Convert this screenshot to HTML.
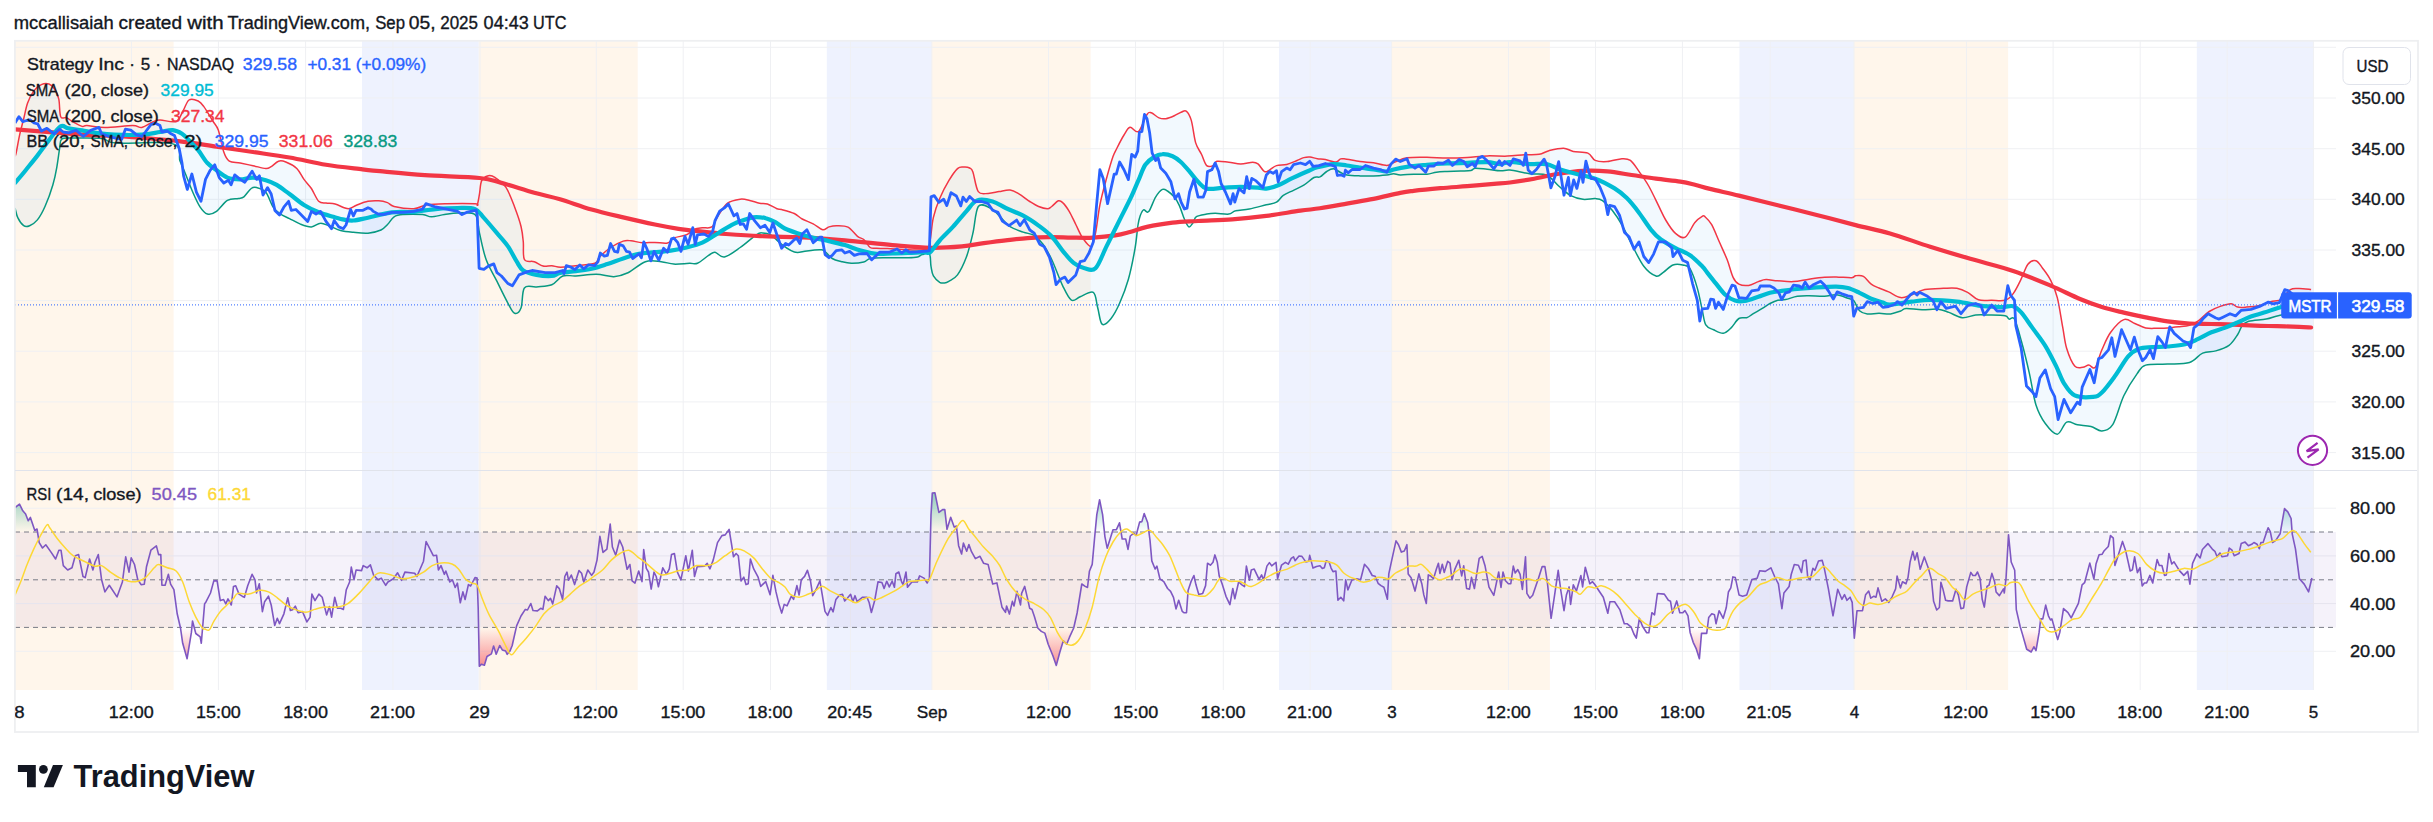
<!DOCTYPE html>
<html><head><meta charset="utf-8"><title>MSTR chart</title>
<style>
html,body{margin:0;padding:0;background:#fff;width:2433px;height:822px;overflow:hidden}
svg{display:block}
text{font-family:"Liberation Sans", Arial, sans-serif;font-size:17px;fill:#131722}
</style></head><body>
<svg width="2433" height="822" viewBox="0 0 2433 822">
<defs>
<clipPath id="mainclip"><rect x="15" y="41" width="2321" height="429"/></clipPath>
<clipPath id="rsiclip"><rect x="15" y="471" width="2321" height="219"/></clipPath>
<clipPath id="timeclip"><rect x="15" y="690" width="2402" height="41"/></clipPath>
<linearGradient id="obg" gradientUnits="userSpaceOnUse" x1="0" y1="484.3" x2="0" y2="532.1"><stop offset="0" stop-color="#089981" stop-opacity="0.55"/><stop offset="1" stop-color="#089981" stop-opacity="0"/></linearGradient>
<linearGradient id="osg" gradientUnits="userSpaceOnUse" x1="0" y1="627.6" x2="0" y2="670"><stop offset="0" stop-color="#f23645" stop-opacity="0"/><stop offset="1" stop-color="#f23645" stop-opacity="0.6"/></linearGradient>
<clipPath id="obclip"><rect x="15" y="471" width="2321" height="61.1"/></clipPath>
<clipPath id="osclip"><rect x="15" y="627.6" width="2321" height="62.4"/></clipPath>
</defs>

<rect x="15.0" y="41" width="158.6" height="649" fill="#fff6eb"/>
<rect x="362.0" y="41" width="116.8" height="649" fill="#eef2fe"/>
<rect x="478.8" y="41" width="158.9" height="649" fill="#fff6eb"/>
<rect x="826.8" y="41" width="105.0" height="649" fill="#eef2fe"/>
<rect x="931.8" y="41" width="158.8" height="649" fill="#fff6eb"/>
<rect x="1279.0" y="41" width="112.6" height="649" fill="#eef2fe"/>
<rect x="1391.6" y="41" width="158.3" height="649" fill="#fff6eb"/>
<rect x="1739.5" y="41" width="114.4" height="649" fill="#eef2fe"/>
<rect x="1853.9" y="41" width="154.2" height="649" fill="#fff6eb"/>
<rect x="2196.8" y="41" width="116.5" height="649" fill="#eef2fe"/>
<line x1="131.4" y1="41" x2="131.4" y2="690" stroke="#eff0f3" stroke-width="1"/>
<line x1="218.4" y1="41" x2="218.4" y2="690" stroke="#eff0f3" stroke-width="1"/>
<line x1="305.6" y1="41" x2="305.6" y2="690" stroke="#eff0f3" stroke-width="1"/>
<line x1="393.0" y1="41" x2="393.0" y2="690" stroke="#eff0f3" stroke-width="1"/>
<line x1="480.0" y1="41" x2="480.0" y2="690" stroke="#eff0f3" stroke-width="1"/>
<line x1="596.3" y1="41" x2="596.3" y2="690" stroke="#eff0f3" stroke-width="1"/>
<line x1="683.2" y1="41" x2="683.2" y2="690" stroke="#eff0f3" stroke-width="1"/>
<line x1="770.5" y1="41" x2="770.5" y2="690" stroke="#eff0f3" stroke-width="1"/>
<line x1="850.4" y1="41" x2="850.4" y2="690" stroke="#eff0f3" stroke-width="1"/>
<line x1="931.8" y1="41" x2="931.8" y2="690" stroke="#eff0f3" stroke-width="1"/>
<line x1="1048.5" y1="41" x2="1048.5" y2="690" stroke="#eff0f3" stroke-width="1"/>
<line x1="1135.5" y1="41" x2="1135.5" y2="690" stroke="#eff0f3" stroke-width="1"/>
<line x1="1223.3" y1="41" x2="1223.3" y2="690" stroke="#eff0f3" stroke-width="1"/>
<line x1="1310.2" y1="41" x2="1310.2" y2="690" stroke="#eff0f3" stroke-width="1"/>
<line x1="1391.6" y1="41" x2="1391.6" y2="690" stroke="#eff0f3" stroke-width="1"/>
<line x1="1508.4" y1="41" x2="1508.4" y2="690" stroke="#eff0f3" stroke-width="1"/>
<line x1="1595.5" y1="41" x2="1595.5" y2="690" stroke="#eff0f3" stroke-width="1"/>
<line x1="1682.4" y1="41" x2="1682.4" y2="690" stroke="#eff0f3" stroke-width="1"/>
<line x1="1770.2" y1="41" x2="1770.2" y2="690" stroke="#eff0f3" stroke-width="1"/>
<line x1="1854.0" y1="41" x2="1854.0" y2="690" stroke="#eff0f3" stroke-width="1"/>
<line x1="1966.4" y1="41" x2="1966.4" y2="690" stroke="#eff0f3" stroke-width="1"/>
<line x1="2053.1" y1="41" x2="2053.1" y2="690" stroke="#eff0f3" stroke-width="1"/>
<line x1="2140.2" y1="41" x2="2140.2" y2="690" stroke="#eff0f3" stroke-width="1"/>
<line x1="2227.2" y1="41" x2="2227.2" y2="690" stroke="#eff0f3" stroke-width="1"/>
<line x1="2313.4" y1="41" x2="2313.4" y2="690" stroke="#eff0f3" stroke-width="1"/>
<line x1="15" y1="47.3" x2="2336" y2="47.3" stroke="#eff0f3" stroke-width="1"/>
<line x1="15" y1="98.0" x2="2336" y2="98.0" stroke="#eff0f3" stroke-width="1"/>
<line x1="15" y1="148.7" x2="2336" y2="148.7" stroke="#eff0f3" stroke-width="1"/>
<line x1="15" y1="199.3" x2="2336" y2="199.3" stroke="#eff0f3" stroke-width="1"/>
<line x1="15" y1="250.0" x2="2336" y2="250.0" stroke="#eff0f3" stroke-width="1"/>
<line x1="15" y1="300.6" x2="2336" y2="300.6" stroke="#eff0f3" stroke-width="1"/>
<line x1="15" y1="351.2" x2="2336" y2="351.2" stroke="#eff0f3" stroke-width="1"/>
<line x1="15" y1="401.9" x2="2336" y2="401.9" stroke="#eff0f3" stroke-width="1"/>
<line x1="15" y1="452.6" x2="2336" y2="452.6" stroke="#eff0f3" stroke-width="1"/>
<line x1="15" y1="508.2" x2="2336" y2="508.2" stroke="#eff0f3" stroke-width="1"/>
<line x1="15" y1="555.9" x2="2336" y2="555.9" stroke="#eff0f3" stroke-width="1"/>
<line x1="15" y1="603.6" x2="2336" y2="603.6" stroke="#eff0f3" stroke-width="1"/>
<line x1="15" y1="651.3" x2="2336" y2="651.3" stroke="#eff0f3" stroke-width="1"/>
<rect x="15" y="532.0" width="2321" height="95.4" fill="#7e57c2" fill-opacity="0.08"/>
<line x1="15" y1="532.0" x2="2336" y2="532.0" stroke="#787b86" stroke-width="1" stroke-dasharray="5,4"/>
<line x1="15" y1="579.8" x2="2336" y2="579.8" stroke="#787b86" stroke-width="1" stroke-dasharray="5,4"/>
<line x1="15" y1="627.4" x2="2336" y2="627.4" stroke="#787b86" stroke-width="1" stroke-dasharray="5,4"/>
<g clip-path="url(#mainclip)">
<path d="M15.0,155.0 C15.2,154.8 15.2,157.2 16.0,153.7 C16.8,150.2 18.5,140.0 19.8,134.2 C21.1,128.4 22.4,123.9 23.7,118.7 C25.0,113.5 26.0,107.6 27.6,103.1 C29.2,98.5 31.2,94.5 33.5,91.4 C35.8,88.3 38.7,85.8 41.3,84.6 C43.9,83.4 46.7,83.2 49.0,84.0 C51.3,84.8 53.3,87.0 54.9,89.5 C56.5,92.0 57.8,94.7 58.8,99.2 C59.8,103.7 59.4,113.6 60.7,116.7 C62.0,119.8 64.6,116.9 66.6,117.7 C68.5,118.5 69.8,120.1 72.4,121.6 C75.0,123.0 79.7,125.7 82.1,126.4 C84.5,127.1 83.2,125.4 87.0,125.6 C90.8,125.8 97.4,127.4 105.0,127.4 C112.6,127.4 126.5,125.6 132.6,125.6 C138.7,125.6 138.5,128.0 141.8,127.4 C145.2,126.8 149.7,123.2 152.7,122.0 C155.7,120.8 156.1,120.1 160.0,120.0 C163.9,119.9 172.2,123.0 176.0,121.5 C179.8,120.0 180.8,114.6 183.0,111.0 C185.2,107.4 186.5,101.7 189.0,100.0 C191.5,98.3 195.8,99.9 198.2,101.0 C200.6,102.1 201.3,103.1 203.7,106.4 C206.1,109.7 210.4,117.0 212.8,121.0 C215.2,125.0 216.5,124.9 218.3,130.1 C220.1,135.3 222.0,146.8 223.8,152.0 C225.6,157.2 226.6,159.4 229.3,161.2 C232.0,163.0 236.2,162.2 240.2,163.0 C244.1,163.8 248.7,164.8 253.0,165.7 C257.3,166.6 262.8,168.3 265.8,168.5 C268.8,168.7 269.1,167.8 271.2,166.6 C273.3,165.4 276.1,162.0 278.5,161.2 C280.9,160.4 282.8,160.8 285.8,162.0 C288.9,163.2 293.8,165.6 296.8,168.5 C299.8,171.4 301.6,176.1 304.0,179.4 C306.4,182.7 308.9,184.8 311.4,188.5 C313.8,192.2 316.3,198.9 318.7,201.3 C321.1,203.7 323.3,202.7 326.0,203.1 C328.7,203.5 332.1,203.2 335.1,204.0 C338.1,204.8 341.8,206.9 344.2,207.7 C346.6,208.5 347.6,209.0 349.7,208.6 C351.8,208.2 353.9,206.2 357.0,205.0 C360.1,203.8 364.4,202.0 368.0,201.3 C371.6,200.6 375.6,200.6 378.8,200.8 C382.1,201.0 384.9,201.7 387.5,202.6 C390.1,203.5 389.7,205.5 394.1,206.5 C398.5,207.5 408.3,209.0 413.8,208.7 C419.3,208.4 421.5,205.6 427.0,204.8 C432.5,204.0 438.7,203.9 446.7,203.7 C454.7,203.5 470.0,203.5 475.1,203.7 C480.2,203.9 476.6,206.5 477.3,204.8 C478.0,203.2 478.8,197.8 479.5,193.8 C480.2,189.8 480.2,183.7 481.7,180.7 C483.2,177.7 486.1,176.4 488.3,175.8 C490.5,175.2 492.0,175.5 494.9,177.4 C497.8,179.3 502.5,182.3 505.8,187.2 C509.1,192.1 512.1,200.4 514.6,207.0 C517.1,213.6 519.7,220.9 521.1,226.7 C522.5,232.5 522.8,236.5 523.3,242.0 C523.8,247.5 522.6,256.2 524.4,259.5 C526.2,262.8 531.2,260.6 534.3,261.7 C537.4,262.8 540.1,265.4 543.0,266.1 C545.9,266.8 548.9,265.5 551.8,265.7 C554.7,265.9 556.6,267.2 560.6,267.2 C564.6,267.2 570.1,266.3 575.8,265.7 C581.5,265.1 590.8,264.8 594.8,263.3 C598.8,261.9 596.9,259.6 599.5,257.0 C602.1,254.4 606.6,250.2 610.6,247.5 C614.6,244.8 619.8,242.2 623.2,241.1 C626.6,240.0 627.9,240.5 631.1,240.8 C634.3,241.1 638.2,242.4 642.2,242.7 C646.2,243.0 650.7,242.3 654.9,242.4 C659.1,242.5 664.4,243.7 667.5,243.0 C670.6,242.3 670.6,239.4 673.8,238.0 C677.0,236.6 683.1,236.2 686.5,234.8 C689.9,233.4 691.8,230.5 694.4,229.3 C697.0,228.1 699.4,228.1 702.3,227.7 C705.2,227.3 709.2,228.9 711.8,226.9 C714.4,224.9 715.5,219.8 718.1,215.8 C720.7,211.9 723.9,206.0 727.6,203.2 C731.3,200.4 736.5,199.7 740.2,199.2 C743.9,198.7 746.5,199.7 749.7,200.4 C752.9,201.1 756.5,202.6 759.5,203.2 C762.5,203.8 764.5,203.1 767.4,204.0 C770.3,204.9 774.5,207.8 776.9,208.7 C779.3,209.6 778.7,208.7 781.6,209.5 C784.5,210.3 790.9,211.9 794.3,213.5 C797.7,215.1 799.1,217.3 802.2,219.0 C805.4,220.7 809.8,222.0 813.2,223.8 C816.6,225.6 820.1,229.3 822.7,229.8 C825.3,230.3 826.6,227.6 829.0,226.9 C831.4,226.2 833.8,225.6 837.0,225.7 C840.2,225.8 844.6,225.4 848.0,227.2 C851.4,229.0 854.9,234.3 857.5,236.4 C860.1,238.5 861.7,237.8 863.8,239.6 C865.9,241.4 868.1,246.1 870.2,247.5 C872.3,248.9 873.6,248.1 876.5,248.3 C879.4,248.5 882.2,248.3 887.5,248.6 C892.8,248.8 901.5,249.7 908.1,249.8 C914.7,249.9 923.3,250.7 927.0,249.0 C930.7,247.3 929.1,244.9 930.2,239.6 C931.3,234.3 931.8,224.2 933.4,217.4 C935.0,210.6 937.1,204.6 939.7,198.5 C942.3,192.4 945.8,185.7 948.8,180.7 C951.8,175.7 955.0,170.9 957.5,168.6 C960.0,166.3 962.1,167.2 964.1,167.1 C966.1,167.0 968.1,167.2 969.6,168.0 C971.1,168.8 971.5,168.0 972.9,171.9 C974.3,175.8 975.8,188.0 978.3,191.6 C980.8,195.2 984.7,193.4 988.2,193.4 C991.7,193.4 995.5,192.2 999.1,191.6 C1002.8,191.0 1006.8,189.7 1010.1,190.1 C1013.4,190.5 1015.6,191.9 1018.9,193.8 C1022.2,195.7 1026.5,199.4 1029.8,201.5 C1033.1,203.6 1035.7,205.3 1038.6,206.5 C1041.5,207.7 1045.1,208.7 1047.3,208.7 C1049.5,208.7 1049.9,207.8 1051.7,206.5 C1053.5,205.2 1056.5,201.5 1058.3,200.8 C1060.1,200.2 1060.9,200.8 1062.7,202.6 C1064.5,204.3 1067.0,207.7 1069.2,211.3 C1071.4,215.0 1073.6,220.1 1075.8,224.5 C1078.0,228.9 1079.9,233.9 1082.4,237.6 C1085.0,241.2 1088.9,247.1 1091.1,246.4 C1093.3,245.7 1094.0,240.1 1095.5,233.2 C1097.0,226.3 1098.1,213.9 1099.9,204.8 C1101.7,195.7 1104.3,186.5 1106.5,178.5 C1108.7,170.5 1111.2,161.7 1113.0,156.6 C1114.8,151.5 1115.2,151.6 1117.0,148.0 C1118.8,144.4 1121.8,138.4 1124.0,135.0 C1126.2,131.6 1127.6,127.9 1130.0,127.3 C1132.4,126.7 1135.7,133.6 1138.5,131.5 C1141.3,129.4 1144.9,117.6 1147.0,114.5 C1149.1,111.4 1149.3,112.2 1151.3,112.8 C1153.3,113.4 1156.6,116.9 1159.0,117.9 C1161.4,118.9 1163.2,119.1 1165.8,118.7 C1168.3,118.3 1171.8,116.8 1174.3,115.7 C1176.8,114.6 1179.1,113.1 1181.1,112.3 C1183.1,111.5 1184.5,109.8 1186.2,111.1 C1187.9,112.4 1189.7,115.2 1191.3,120.4 C1192.9,125.7 1193.9,136.9 1195.6,142.6 C1197.3,148.3 1199.8,150.7 1201.6,154.5 C1203.4,158.3 1204.8,163.8 1206.7,165.6 C1208.6,167.4 1211.3,166.3 1213.0,165.6 C1214.7,164.9 1214.3,161.9 1216.9,161.3 C1219.5,160.7 1224.8,161.8 1228.8,162.2 C1232.8,162.6 1236.7,163.9 1240.7,163.9 C1244.7,163.9 1249.8,162.2 1252.7,162.2 C1255.6,162.2 1256.0,162.3 1258.0,163.9 C1260.0,165.5 1262.6,170.6 1264.6,171.6 C1266.5,172.6 1267.7,170.8 1269.7,169.8 C1271.7,168.8 1273.7,166.5 1276.5,165.6 C1279.3,164.7 1283.3,165.2 1286.7,164.4 C1290.1,163.6 1294.2,161.6 1297.0,160.5 C1299.8,159.4 1301.6,158.2 1303.8,157.6 C1306.0,157.0 1307.7,156.8 1310.0,157.0 C1312.3,157.2 1314.8,158.4 1317.4,158.8 C1320.0,159.2 1322.3,158.9 1325.4,159.5 C1328.5,160.1 1333.5,162.2 1336.0,162.1 C1338.5,162.0 1338.8,159.6 1340.1,159.1 C1341.4,158.6 1340.8,158.4 1344.1,158.8 C1347.4,159.2 1355.2,160.8 1360.1,161.5 C1365.0,162.2 1369.0,162.1 1373.5,162.8 C1378.0,163.5 1383.3,165.6 1386.9,165.5 C1390.5,165.4 1391.6,163.4 1394.9,162.1 C1398.2,160.8 1401.7,158.5 1407.0,157.7 C1412.3,156.9 1420.3,157.1 1427.0,157.2 C1433.7,157.3 1440.4,158.0 1447.1,158.1 C1453.8,158.2 1460.5,157.9 1467.2,157.5 C1473.9,157.1 1480.5,156.1 1487.2,155.9 C1493.9,155.7 1501.1,156.3 1507.3,156.1 C1513.5,155.9 1519.3,155.1 1524.6,154.8 C1529.9,154.5 1535.2,155.0 1539.2,154.3 C1543.2,153.6 1544.9,151.7 1548.9,150.7 C1553.0,149.7 1559.4,148.1 1563.5,148.2 C1567.6,148.3 1569.2,150.6 1573.3,151.4 C1577.4,152.2 1584.2,151.6 1587.9,153.1 C1591.6,154.6 1592.0,159.0 1595.2,160.4 C1598.4,161.8 1602.8,161.9 1607.3,161.6 C1611.8,161.3 1618.1,158.9 1621.9,158.7 C1625.8,158.5 1627.6,158.3 1630.4,160.4 C1633.2,162.5 1636.0,167.1 1639.0,171.4 C1642.0,175.7 1645.5,180.3 1648.7,186.0 C1651.9,191.7 1655.6,199.7 1658.4,205.4 C1661.2,211.1 1662.9,215.3 1665.7,220.0 C1668.5,224.7 1672.2,230.6 1675.5,233.4 C1678.8,236.2 1682.0,238.9 1685.2,237.1 C1688.4,235.3 1692.1,225.9 1694.9,222.5 C1697.7,219.1 1700.5,217.4 1702.2,216.4 C1703.9,215.4 1703.3,215.2 1704.9,216.6 C1706.5,218.0 1709.3,220.4 1711.7,224.7 C1714.1,229.0 1716.9,236.5 1719.5,242.3 C1722.1,248.2 1724.9,254.0 1727.2,259.8 C1729.5,265.6 1731.1,273.2 1733.1,277.3 C1735.0,281.4 1736.3,282.8 1738.9,284.1 C1741.5,285.5 1745.3,285.8 1748.6,285.4 C1751.8,285.0 1755.5,282.6 1758.4,281.6 C1761.3,280.6 1762.9,279.7 1766.1,279.6 C1769.3,279.5 1773.2,280.5 1777.8,280.8 C1782.3,281.1 1788.2,281.9 1793.4,281.6 C1798.6,281.3 1803.8,279.9 1809.0,279.2 C1814.2,278.5 1820.0,277.7 1824.5,277.3 C1829.0,276.9 1831.7,276.8 1836.2,276.9 C1840.8,277.0 1848.6,277.9 1851.8,277.7 C1855.0,277.5 1853.7,275.9 1855.6,275.7 C1857.5,275.5 1860.8,274.9 1863.4,276.3 C1866.0,277.7 1868.6,282.2 1871.2,284.1 C1873.8,286.1 1876.1,286.7 1879.0,288.0 C1881.9,289.3 1885.1,290.3 1888.7,291.9 C1892.3,293.5 1896.9,297.1 1900.7,297.6 C1904.5,298.1 1907.4,296.3 1911.4,295.0 C1915.4,293.7 1919.5,290.7 1924.8,289.6 C1930.1,288.5 1938.2,288.5 1943.5,288.3 C1948.8,288.1 1952.9,287.6 1956.9,288.3 C1960.9,289.0 1964.0,290.4 1967.6,292.3 C1971.2,294.2 1974.4,298.5 1978.4,299.8 C1982.4,301.1 1987.2,300.2 1991.7,300.3 C1996.2,300.4 2001.5,301.4 2005.1,300.3 C2008.7,299.2 2010.5,297.2 2013.2,293.6 C2015.9,290.0 2018.8,283.8 2021.2,278.9 C2023.7,274.0 2025.5,267.2 2027.9,264.2 C2030.4,261.2 2033.5,260.0 2035.9,260.7 C2038.4,261.4 2040.1,264.9 2042.6,268.2 C2045.0,271.4 2048.1,275.3 2050.6,280.2 C2053.1,285.1 2055.3,289.8 2057.3,297.6 C2059.3,305.4 2061.1,318.6 2062.7,327.1 C2064.3,335.6 2064.7,342.0 2066.7,348.5 C2068.7,355.0 2072.0,362.8 2074.7,365.9 C2077.4,369.0 2080.5,367.4 2082.8,367.3 C2085.2,367.2 2086.7,365.1 2088.8,365.1 C2090.9,365.1 2093.1,369.9 2095.3,367.3 C2097.5,364.8 2099.3,355.6 2101.9,349.8 C2104.5,344.0 2107.0,337.3 2110.7,332.3 C2114.3,327.3 2119.8,321.1 2123.8,319.6 C2127.8,318.1 2131.2,322.1 2134.8,323.5 C2138.5,324.9 2142.0,327.1 2145.7,327.9 C2149.3,328.7 2153.0,328.3 2156.7,328.3 C2160.3,328.3 2163.9,328.1 2167.6,327.9 C2171.2,327.6 2174.9,327.2 2178.6,326.8 C2182.2,326.4 2186.2,326.3 2189.5,325.3 C2192.8,324.3 2195.0,323.2 2198.3,320.9 C2201.6,318.6 2205.5,313.9 2209.2,311.5 C2212.8,309.1 2216.5,307.7 2220.2,306.4 C2223.9,305.1 2228.3,303.7 2231.2,303.8 C2234.1,303.9 2235.1,306.6 2237.7,307.1 C2240.2,307.7 2242.8,307.4 2246.5,307.1 C2250.2,306.9 2255.6,306.5 2259.6,305.6 C2263.6,304.7 2266.9,302.6 2270.6,301.6 C2274.2,300.6 2278.2,301.4 2281.5,299.4 C2284.8,297.4 2287.4,291.4 2290.3,289.6 C2293.2,287.8 2295.6,288.5 2299.1,288.5 C2302.6,288.5 2309.1,289.4 2311.1,289.6 L2311.0,309.5 C2309.2,309.8 2303.5,310.4 2300.0,311.0 C2296.5,311.6 2293.8,312.2 2290.0,313.0 C2286.2,313.8 2281.2,314.9 2277.2,315.9 C2273.2,316.9 2270.9,318.2 2266.2,319.1 C2261.4,320.0 2252.7,320.2 2248.7,321.3 C2244.7,322.4 2243.9,323.5 2242.1,325.7 C2240.3,327.9 2239.9,331.2 2237.7,334.5 C2235.5,337.8 2232.7,342.7 2229.0,345.4 C2225.3,348.1 2220.2,349.6 2215.8,350.9 C2211.4,352.2 2207.1,351.2 2202.7,353.1 C2198.3,355.0 2195.3,360.7 2189.5,362.5 C2183.7,364.3 2174.9,363.7 2167.6,364.1 C2160.3,364.5 2150.8,363.5 2145.7,365.1 C2140.6,366.7 2140.7,368.8 2137.0,373.9 C2133.3,379.0 2127.8,387.4 2123.8,395.8 C2119.8,404.2 2116.6,418.5 2112.9,424.3 C2109.2,430.1 2105.6,430.5 2101.9,430.9 C2098.2,431.3 2095.1,427.5 2091.0,426.5 C2086.9,425.5 2081.5,425.5 2077.4,424.8 C2073.3,424.1 2070.0,420.5 2066.7,422.1 C2063.3,423.7 2060.9,434.0 2057.3,434.2 C2053.7,434.4 2048.9,428.4 2045.3,423.5 C2041.7,418.6 2038.6,413.2 2035.9,404.7 C2033.2,396.2 2031.7,383.3 2029.2,372.6 C2026.8,361.9 2023.7,349.4 2021.2,340.5 C2018.8,331.6 2016.5,322.7 2014.5,319.1 C2012.5,315.5 2010.7,319.7 2009.1,319.1 C2007.5,318.6 2008.4,316.5 2005.1,315.8 C2001.8,315.1 1994.0,315.1 1989.1,315.0 C1984.2,314.9 1980.2,314.6 1975.7,315.0 C1971.2,315.4 1966.8,318.1 1962.3,317.7 C1957.8,317.3 1952.9,313.8 1948.9,312.4 C1944.9,311.0 1942.7,309.6 1938.2,309.2 C1933.7,308.8 1927.4,309.8 1922.1,309.7 C1916.8,309.6 1909.7,308.2 1906.1,308.4 C1902.5,308.6 1903.3,310.1 1900.7,311.0 C1898.1,311.9 1894.3,313.5 1890.7,313.9 C1887.1,314.3 1882.9,313.3 1879.0,313.3 C1875.1,313.3 1870.5,314.3 1867.3,313.9 C1864.0,313.5 1861.8,312.9 1859.5,310.7 C1857.2,308.5 1855.6,302.7 1853.7,300.6 C1851.8,298.5 1850.8,299.3 1847.9,298.3 C1845.0,297.3 1840.1,295.1 1836.2,294.8 C1832.3,294.5 1829.0,296.1 1824.5,296.3 C1820.0,296.5 1813.5,295.8 1809.0,295.8 C1804.5,295.8 1801.2,295.7 1797.3,296.3 C1793.4,296.9 1788.8,299.0 1785.6,299.6 C1782.3,300.2 1780.4,299.6 1777.8,300.2 C1775.2,300.8 1772.6,302.1 1770.0,303.5 C1767.4,304.9 1765.2,306.6 1762.3,308.4 C1759.4,310.2 1755.1,312.6 1752.5,314.2 C1749.9,315.8 1749.0,317.0 1746.7,317.7 C1744.4,318.4 1741.5,316.8 1738.9,318.5 C1736.3,320.2 1733.7,325.4 1731.1,327.9 C1728.5,330.4 1726.2,333.0 1723.3,333.3 C1720.4,333.6 1716.5,331.2 1713.6,329.8 C1710.7,328.4 1707.7,328.2 1705.8,324.9 C1703.9,321.6 1703.6,316.1 1702.2,310.0 C1700.8,303.9 1699.3,295.0 1697.3,288.1 C1695.3,281.2 1692.4,272.6 1690.0,268.7 C1687.6,264.8 1685.5,265.6 1682.7,265.0 C1679.9,264.4 1676.2,263.8 1673.0,265.0 C1669.8,266.2 1666.1,270.5 1663.3,272.3 C1660.5,274.1 1659.2,277.0 1656.0,276.0 C1652.8,275.0 1647.8,271.6 1643.8,266.3 C1639.8,261.0 1635.3,251.3 1631.7,244.4 C1628.1,237.5 1625.2,230.6 1621.9,224.9 C1618.7,219.2 1615.4,214.4 1612.2,210.3 C1609.0,206.2 1605.3,202.6 1602.5,200.6 C1599.7,198.6 1598.5,198.8 1595.2,198.6 C1592.0,198.4 1587.1,199.8 1583.0,199.3 C1578.9,198.8 1574.8,197.9 1570.8,195.7 C1566.8,193.5 1562.8,189.4 1558.7,186.0 C1554.7,182.6 1551.4,177.0 1546.5,175.0 C1541.6,173.0 1535.6,174.6 1529.5,173.8 C1523.4,173.0 1514.8,170.6 1510.0,170.1 C1505.2,169.6 1504.4,171.0 1500.6,170.8 C1496.8,170.7 1491.4,169.6 1487.2,169.2 C1483.0,168.8 1477.9,168.0 1475.2,168.2 C1472.5,168.4 1473.5,170.0 1471.0,170.5 C1468.5,171.0 1464.5,170.9 1460.5,171.1 C1456.5,171.3 1451.1,171.3 1447.1,171.5 C1443.1,171.7 1439.8,171.8 1436.4,172.2 C1433.1,172.6 1430.8,173.9 1427.0,174.2 C1423.2,174.5 1418.0,174.1 1413.6,174.2 C1409.1,174.3 1403.6,175.0 1400.3,174.9 C1397.0,174.8 1395.8,173.8 1393.6,173.8 C1391.4,173.8 1390.2,174.6 1386.9,174.9 C1383.6,175.2 1378.0,175.7 1373.5,175.9 C1369.0,176.1 1364.5,176.1 1360.1,175.9 C1355.6,175.7 1350.1,175.5 1346.8,174.9 C1343.5,174.3 1342.3,173.2 1340.1,172.2 C1337.9,171.2 1335.6,168.9 1333.4,168.8 C1331.2,168.7 1328.9,170.2 1326.7,171.5 C1324.5,172.8 1322.1,175.9 1320.0,176.9 C1317.9,177.9 1316.7,176.1 1314.0,177.5 C1311.3,178.9 1307.2,183.1 1303.8,185.2 C1300.4,187.3 1296.9,188.6 1293.5,190.3 C1290.1,192.0 1286.1,193.4 1283.3,195.4 C1280.5,197.4 1279.3,200.6 1276.5,202.2 C1273.7,203.8 1270.8,203.7 1266.3,204.8 C1261.8,205.9 1254.4,208.0 1249.3,209.0 C1244.2,210.0 1239.0,209.8 1235.6,210.7 C1232.2,211.5 1232.2,213.7 1228.8,214.1 C1225.4,214.5 1218.9,213.3 1215.2,213.3 C1211.5,213.3 1209.8,213.5 1206.7,214.1 C1203.6,214.7 1198.7,215.3 1196.4,216.7 C1194.1,218.1 1194.3,221.0 1193.0,222.7 C1191.7,224.4 1190.2,227.5 1188.8,226.9 C1187.4,226.3 1186.1,222.9 1184.5,219.3 C1182.9,215.8 1181.1,209.3 1179.4,205.6 C1177.7,201.9 1176.3,199.5 1174.3,197.1 C1172.3,194.7 1169.5,192.3 1167.5,191.0 C1165.5,189.7 1164.4,188.4 1162.4,189.4 C1160.4,190.4 1157.9,193.4 1155.6,197.1 C1153.3,200.8 1150.7,209.5 1148.7,211.6 C1146.7,213.7 1145.0,209.2 1143.6,209.9 C1142.2,210.6 1141.1,213.3 1140.2,215.8 C1139.3,218.3 1138.9,219.5 1138.0,225.0 C1137.1,230.5 1136.6,239.6 1135.0,248.6 C1133.4,257.6 1131.0,270.1 1128.4,279.2 C1125.8,288.3 1122.5,296.7 1119.6,303.3 C1116.7,309.9 1113.8,315.2 1110.9,318.7 C1108.0,322.2 1104.3,326.0 1102.1,324.2 C1099.9,322.4 1099.2,313.0 1097.7,307.7 C1096.2,302.4 1096.2,294.2 1093.3,292.4 C1090.4,290.6 1083.8,295.5 1080.2,296.8 C1076.6,298.1 1074.3,301.9 1071.4,300.1 C1068.5,298.3 1066.0,292.6 1062.7,285.8 C1059.4,279.0 1055.0,266.4 1051.7,259.5 C1048.4,252.6 1045.9,248.2 1043.0,244.2 C1040.1,240.2 1037.5,237.4 1034.2,235.4 C1030.9,233.4 1027.2,233.6 1023.2,232.1 C1019.2,230.6 1014.1,229.4 1010.1,226.7 C1006.1,224.0 1002.4,218.8 999.1,215.7 C995.8,212.6 993.9,209.5 990.4,208.0 C986.9,206.5 981.2,202.3 978.3,206.5 C975.4,210.7 974.9,224.7 972.9,233.2 C970.9,241.7 968.9,250.4 966.3,257.3 C963.7,264.2 960.4,270.9 957.5,274.9 C954.6,278.9 951.0,280.0 948.8,281.4 C946.6,282.8 946.0,282.9 944.5,283.0 C943.0,283.1 941.6,283.5 939.7,282.3 C937.9,281.1 934.9,278.5 933.4,275.9 C931.9,273.2 931.7,270.1 931.0,266.4 C930.3,262.7 930.9,255.8 929.4,253.8 C927.9,251.8 924.3,254.1 922.3,254.6 C920.3,255.1 920.0,256.5 917.6,257.0 C915.2,257.5 913.6,257.6 908.1,257.7 C902.6,257.8 890.7,257.6 884.4,257.7 C878.1,257.8 873.6,257.8 870.2,258.5 C866.8,259.2 867.0,261.2 863.8,262.0 C860.6,262.8 854.9,263.4 851.2,263.3 C847.5,263.2 844.9,262.5 841.7,261.7 C838.5,260.9 835.2,260.4 832.2,258.5 C829.2,256.6 826.1,251.9 824.0,250.5 C821.9,249.1 822.5,249.7 819.6,249.8 C816.8,249.9 810.6,250.5 806.9,250.9 C803.2,251.3 800.0,252.6 797.4,252.5 C794.8,252.4 793.7,252.0 791.1,250.6 C788.5,249.2 785.0,246.9 781.6,244.3 C778.2,241.7 773.8,236.7 770.6,234.8 C767.4,232.9 765.0,232.9 762.6,232.9 C760.2,232.9 760.0,232.4 756.3,234.8 C752.6,237.2 745.5,243.8 740.2,247.5 C734.9,251.2 728.6,256.2 724.4,257.0 C720.2,257.8 717.6,252.5 715.0,252.2 C712.4,251.9 711.5,253.6 708.6,255.4 C705.7,257.2 700.7,262.0 697.5,263.3 C694.3,264.6 693.6,263.2 689.6,263.3 C685.6,263.4 678.5,264.4 673.8,264.1 C669.1,263.8 665.9,262.1 661.2,261.7 C656.5,261.3 650.9,259.8 645.4,261.7 C639.9,263.6 633.3,270.3 628.0,272.8 C622.7,275.3 619.1,276.4 613.8,276.7 C608.5,276.9 602.7,274.4 596.4,274.3 C590.1,274.2 581.4,275.6 575.8,275.9 C570.2,276.2 566.8,274.5 562.8,276.0 C558.8,277.5 556.2,282.9 551.8,284.7 C547.4,286.5 541.1,286.3 536.5,286.9 C531.9,287.4 527.0,284.5 524.4,288.0 C521.8,291.5 522.7,303.5 521.1,307.7 C519.5,311.9 516.8,313.9 514.6,313.2 C512.4,312.5 510.9,308.6 508.0,303.3 C505.1,298.0 500.6,288.7 497.0,281.4 C493.4,274.1 489.0,267.5 486.1,259.5 C483.2,251.5 481.3,240.7 479.5,233.2 C477.7,225.7 478.8,217.9 475.1,214.6 C471.5,211.2 462.7,213.1 457.6,213.1 C452.5,213.1 448.9,214.0 444.5,214.6 C440.1,215.2 434.9,216.8 431.3,216.8 C427.7,216.8 427.3,215.0 422.6,214.6 C417.9,214.2 407.6,214.2 402.9,214.6 C398.1,215.0 396.7,215.2 394.1,216.8 C391.5,218.5 389.7,222.3 387.5,224.5 C385.3,226.7 384.2,228.6 381.0,230.0 C377.8,231.4 372.6,232.8 368.0,233.2 C363.4,233.6 358.0,232.8 353.4,232.3 C348.8,231.9 344.6,231.6 340.6,230.5 C336.6,229.4 333.0,227.2 329.6,226.0 C326.2,224.8 323.5,223.0 320.5,223.2 C317.5,223.3 314.8,226.8 311.4,226.9 C308.0,227.1 304.0,225.5 300.4,224.1 C296.8,222.7 292.8,220.3 289.5,218.6 C286.2,216.9 283.1,216.0 280.4,214.0 C277.6,212.0 275.4,210.4 273.0,206.8 C270.6,203.2 268.5,195.4 265.8,192.2 C263.1,189.0 259.0,188.2 256.6,187.6 C254.2,187.0 253.3,187.0 251.2,188.5 C249.1,190.0 246.0,195.1 243.9,196.8 C241.8,198.5 241.2,198.0 238.4,198.6 C235.7,199.2 231.1,198.3 227.4,200.4 C223.8,202.5 219.8,209.1 216.5,211.4 C213.2,213.7 210.2,214.8 207.4,214.0 C204.7,213.2 202.4,210.4 200.0,206.8 C197.6,203.2 195.2,197.7 192.8,192.2 C190.4,186.7 187.6,179.2 185.5,174.0 C183.4,168.8 182.1,166.0 180.0,161.0 C177.9,156.0 183.5,146.9 172.8,143.9 C162.1,140.9 127.9,143.9 116.0,143.0 C104.1,142.1 108.9,139.2 101.6,138.4 C94.3,137.6 79.1,138.0 72.4,138.1 C65.8,138.2 63.8,137.5 61.7,139.1 C59.6,140.7 60.5,143.2 59.7,147.9 C58.9,152.6 57.9,161.2 56.8,167.3 C55.7,173.5 54.8,178.3 52.9,184.8 C51.0,191.3 47.7,200.5 45.1,206.3 C42.5,212.2 40.0,216.7 37.4,219.9 C34.8,223.1 31.9,224.7 29.6,225.7 C27.3,226.7 25.6,227.0 23.7,225.7 C21.8,224.4 19.3,220.8 17.9,217.9 C16.4,215.0 15.5,209.7 15.0,208.0 Z" fill="#2196f3" fill-opacity="0.06"/>
<path d="M15.0,155.0 C15.2,154.8 15.2,157.2 16.0,153.7 C16.8,150.2 18.5,140.0 19.8,134.2 C21.1,128.4 22.4,123.9 23.7,118.7 C25.0,113.5 26.0,107.6 27.6,103.1 C29.2,98.5 31.2,94.5 33.5,91.4 C35.8,88.3 38.7,85.8 41.3,84.6 C43.9,83.4 46.7,83.2 49.0,84.0 C51.3,84.8 53.3,87.0 54.9,89.5 C56.5,92.0 57.8,94.7 58.8,99.2 C59.8,103.7 59.4,113.6 60.7,116.7 C62.0,119.8 64.6,116.9 66.6,117.7 C68.5,118.5 69.8,120.1 72.4,121.6 C75.0,123.0 79.7,125.7 82.1,126.4 C84.5,127.1 83.2,125.4 87.0,125.6 C90.8,125.8 97.4,127.4 105.0,127.4 C112.6,127.4 126.5,125.6 132.6,125.6 C138.7,125.6 138.5,128.0 141.8,127.4 C145.2,126.8 149.7,123.2 152.7,122.0 C155.7,120.8 156.1,120.1 160.0,120.0 C163.9,119.9 172.2,123.0 176.0,121.5 C179.8,120.0 180.8,114.6 183.0,111.0 C185.2,107.4 186.5,101.7 189.0,100.0 C191.5,98.3 195.8,99.9 198.2,101.0 C200.6,102.1 201.3,103.1 203.7,106.4 C206.1,109.7 210.4,117.0 212.8,121.0 C215.2,125.0 216.5,124.9 218.3,130.1 C220.1,135.3 222.0,146.8 223.8,152.0 C225.6,157.2 226.6,159.4 229.3,161.2 C232.0,163.0 236.2,162.2 240.2,163.0 C244.1,163.8 248.7,164.8 253.0,165.7 C257.3,166.6 262.8,168.3 265.8,168.5 C268.8,168.7 269.1,167.8 271.2,166.6 C273.3,165.4 276.1,162.0 278.5,161.2 C280.9,160.4 282.8,160.8 285.8,162.0 C288.9,163.2 293.8,165.6 296.8,168.5 C299.8,171.4 301.6,176.1 304.0,179.4 C306.4,182.7 308.9,184.8 311.4,188.5 C313.8,192.2 316.3,198.9 318.7,201.3 C321.1,203.7 323.3,202.7 326.0,203.1 C328.7,203.5 332.1,203.2 335.1,204.0 C338.1,204.8 341.8,206.9 344.2,207.7 C346.6,208.5 347.6,209.0 349.7,208.6 C351.8,208.2 353.9,206.2 357.0,205.0 C360.1,203.8 364.4,202.0 368.0,201.3 C371.6,200.6 375.6,200.6 378.8,200.8 C382.1,201.0 384.9,201.7 387.5,202.6 C390.1,203.5 389.7,205.5 394.1,206.5 C398.5,207.5 408.3,209.0 413.8,208.7 C419.3,208.4 421.5,205.6 427.0,204.8 C432.5,204.0 438.7,203.9 446.7,203.7 C454.7,203.5 470.0,203.5 475.1,203.7 C480.2,203.9 476.6,206.5 477.3,204.8 C478.0,203.2 478.8,197.8 479.5,193.8 C480.2,189.8 480.2,183.7 481.7,180.7 C483.2,177.7 486.1,176.4 488.3,175.8 C490.5,175.2 492.0,175.5 494.9,177.4 C497.8,179.3 502.5,182.3 505.8,187.2 C509.1,192.1 512.1,200.4 514.6,207.0 C517.1,213.6 519.7,220.9 521.1,226.7 C522.5,232.5 522.8,236.5 523.3,242.0 C523.8,247.5 522.6,256.2 524.4,259.5 C526.2,262.8 531.2,260.6 534.3,261.7 C537.4,262.8 540.1,265.4 543.0,266.1 C545.9,266.8 548.9,265.5 551.8,265.7 C554.7,265.9 556.6,267.2 560.6,267.2 C564.6,267.2 570.1,266.3 575.8,265.7 C581.5,265.1 590.8,264.8 594.8,263.3 C598.8,261.9 596.9,259.6 599.5,257.0 C602.1,254.4 606.6,250.2 610.6,247.5 C614.6,244.8 619.8,242.2 623.2,241.1 C626.6,240.0 627.9,240.5 631.1,240.8 C634.3,241.1 638.2,242.4 642.2,242.7 C646.2,243.0 650.7,242.3 654.9,242.4 C659.1,242.5 664.4,243.7 667.5,243.0 C670.6,242.3 670.6,239.4 673.8,238.0 C677.0,236.6 683.1,236.2 686.5,234.8 C689.9,233.4 691.8,230.5 694.4,229.3 C697.0,228.1 699.4,228.1 702.3,227.7 C705.2,227.3 709.2,228.9 711.8,226.9 C714.4,224.9 715.5,219.8 718.1,215.8 C720.7,211.9 723.9,206.0 727.6,203.2 C731.3,200.4 736.5,199.7 740.2,199.2 C743.9,198.7 746.5,199.7 749.7,200.4 C752.9,201.1 756.5,202.6 759.5,203.2 C762.5,203.8 764.5,203.1 767.4,204.0 C770.3,204.9 774.5,207.8 776.9,208.7 C779.3,209.6 778.7,208.7 781.6,209.5 C784.5,210.3 790.9,211.9 794.3,213.5 C797.7,215.1 799.1,217.3 802.2,219.0 C805.4,220.7 809.8,222.0 813.2,223.8 C816.6,225.6 820.1,229.3 822.7,229.8 C825.3,230.3 826.6,227.6 829.0,226.9 C831.4,226.2 833.8,225.6 837.0,225.7 C840.2,225.8 844.6,225.4 848.0,227.2 C851.4,229.0 854.9,234.3 857.5,236.4 C860.1,238.5 861.7,237.8 863.8,239.6 C865.9,241.4 868.1,246.1 870.2,247.5 C872.3,248.9 873.6,248.1 876.5,248.3 C879.4,248.5 882.2,248.3 887.5,248.6 C892.8,248.8 901.5,249.7 908.1,249.8 C914.7,249.9 923.3,250.7 927.0,249.0 C930.7,247.3 929.1,244.9 930.2,239.6 C931.3,234.3 931.8,224.2 933.4,217.4 C935.0,210.6 937.1,204.6 939.7,198.5 C942.3,192.4 945.8,185.7 948.8,180.7 C951.8,175.7 955.0,170.9 957.5,168.6 C960.0,166.3 962.1,167.2 964.1,167.1 C966.1,167.0 968.1,167.2 969.6,168.0 C971.1,168.8 971.5,168.0 972.9,171.9 C974.3,175.8 975.8,188.0 978.3,191.6 C980.8,195.2 984.7,193.4 988.2,193.4 C991.7,193.4 995.5,192.2 999.1,191.6 C1002.8,191.0 1006.8,189.7 1010.1,190.1 C1013.4,190.5 1015.6,191.9 1018.9,193.8 C1022.2,195.7 1026.5,199.4 1029.8,201.5 C1033.1,203.6 1035.7,205.3 1038.6,206.5 C1041.5,207.7 1045.1,208.7 1047.3,208.7 C1049.5,208.7 1049.9,207.8 1051.7,206.5 C1053.5,205.2 1056.5,201.5 1058.3,200.8 C1060.1,200.2 1060.9,200.8 1062.7,202.6 C1064.5,204.3 1067.0,207.7 1069.2,211.3 C1071.4,215.0 1073.6,220.1 1075.8,224.5 C1078.0,228.9 1079.9,233.9 1082.4,237.6 C1085.0,241.2 1088.9,247.1 1091.1,246.4 C1093.3,245.7 1094.0,240.1 1095.5,233.2 C1097.0,226.3 1098.1,213.9 1099.9,204.8 C1101.7,195.7 1104.3,186.5 1106.5,178.5 C1108.7,170.5 1111.2,161.7 1113.0,156.6 C1114.8,151.5 1115.2,151.6 1117.0,148.0 C1118.8,144.4 1121.8,138.4 1124.0,135.0 C1126.2,131.6 1127.6,127.9 1130.0,127.3 C1132.4,126.7 1135.7,133.6 1138.5,131.5 C1141.3,129.4 1144.9,117.6 1147.0,114.5 C1149.1,111.4 1149.3,112.2 1151.3,112.8 C1153.3,113.4 1156.6,116.9 1159.0,117.9 C1161.4,118.9 1163.2,119.1 1165.8,118.7 C1168.3,118.3 1171.8,116.8 1174.3,115.7 C1176.8,114.6 1179.1,113.1 1181.1,112.3 C1183.1,111.5 1184.5,109.8 1186.2,111.1 C1187.9,112.4 1189.7,115.2 1191.3,120.4 C1192.9,125.7 1193.9,136.9 1195.6,142.6 C1197.3,148.3 1199.8,150.7 1201.6,154.5 C1203.4,158.3 1204.8,163.8 1206.7,165.6 C1208.6,167.4 1211.3,166.3 1213.0,165.6 C1214.7,164.9 1214.3,161.9 1216.9,161.3 C1219.5,160.7 1224.8,161.8 1228.8,162.2 C1232.8,162.6 1236.7,163.9 1240.7,163.9 C1244.7,163.9 1249.8,162.2 1252.7,162.2 C1255.6,162.2 1256.0,162.3 1258.0,163.9 C1260.0,165.5 1262.6,170.6 1264.6,171.6 C1266.5,172.6 1267.7,170.8 1269.7,169.8 C1271.7,168.8 1273.7,166.5 1276.5,165.6 C1279.3,164.7 1283.3,165.2 1286.7,164.4 C1290.1,163.6 1294.2,161.6 1297.0,160.5 C1299.8,159.4 1301.6,158.2 1303.8,157.6 C1306.0,157.0 1307.7,156.8 1310.0,157.0 C1312.3,157.2 1314.8,158.4 1317.4,158.8 C1320.0,159.2 1322.3,158.9 1325.4,159.5 C1328.5,160.1 1333.5,162.2 1336.0,162.1 C1338.5,162.0 1338.8,159.6 1340.1,159.1 C1341.4,158.6 1340.8,158.4 1344.1,158.8 C1347.4,159.2 1355.2,160.8 1360.1,161.5 C1365.0,162.2 1369.0,162.1 1373.5,162.8 C1378.0,163.5 1383.3,165.6 1386.9,165.5 C1390.5,165.4 1391.6,163.4 1394.9,162.1 C1398.2,160.8 1401.7,158.5 1407.0,157.7 C1412.3,156.9 1420.3,157.1 1427.0,157.2 C1433.7,157.3 1440.4,158.0 1447.1,158.1 C1453.8,158.2 1460.5,157.9 1467.2,157.5 C1473.9,157.1 1480.5,156.1 1487.2,155.9 C1493.9,155.7 1501.1,156.3 1507.3,156.1 C1513.5,155.9 1519.3,155.1 1524.6,154.8 C1529.9,154.5 1535.2,155.0 1539.2,154.3 C1543.2,153.6 1544.9,151.7 1548.9,150.7 C1553.0,149.7 1559.4,148.1 1563.5,148.2 C1567.6,148.3 1569.2,150.6 1573.3,151.4 C1577.4,152.2 1584.2,151.6 1587.9,153.1 C1591.6,154.6 1592.0,159.0 1595.2,160.4 C1598.4,161.8 1602.8,161.9 1607.3,161.6 C1611.8,161.3 1618.1,158.9 1621.9,158.7 C1625.8,158.5 1627.6,158.3 1630.4,160.4 C1633.2,162.5 1636.0,167.1 1639.0,171.4 C1642.0,175.7 1645.5,180.3 1648.7,186.0 C1651.9,191.7 1655.6,199.7 1658.4,205.4 C1661.2,211.1 1662.9,215.3 1665.7,220.0 C1668.5,224.7 1672.2,230.6 1675.5,233.4 C1678.8,236.2 1682.0,238.9 1685.2,237.1 C1688.4,235.3 1692.1,225.9 1694.9,222.5 C1697.7,219.1 1700.5,217.4 1702.2,216.4 C1703.9,215.4 1703.3,215.2 1704.9,216.6 C1706.5,218.0 1709.3,220.4 1711.7,224.7 C1714.1,229.0 1716.9,236.5 1719.5,242.3 C1722.1,248.2 1724.9,254.0 1727.2,259.8 C1729.5,265.6 1731.1,273.2 1733.1,277.3 C1735.0,281.4 1736.3,282.8 1738.9,284.1 C1741.5,285.5 1745.3,285.8 1748.6,285.4 C1751.8,285.0 1755.5,282.6 1758.4,281.6 C1761.3,280.6 1762.9,279.7 1766.1,279.6 C1769.3,279.5 1773.2,280.5 1777.8,280.8 C1782.3,281.1 1788.2,281.9 1793.4,281.6 C1798.6,281.3 1803.8,279.9 1809.0,279.2 C1814.2,278.5 1820.0,277.7 1824.5,277.3 C1829.0,276.9 1831.7,276.8 1836.2,276.9 C1840.8,277.0 1848.6,277.9 1851.8,277.7 C1855.0,277.5 1853.7,275.9 1855.6,275.7 C1857.5,275.5 1860.8,274.9 1863.4,276.3 C1866.0,277.7 1868.6,282.2 1871.2,284.1 C1873.8,286.1 1876.1,286.7 1879.0,288.0 C1881.9,289.3 1885.1,290.3 1888.7,291.9 C1892.3,293.5 1896.9,297.1 1900.7,297.6 C1904.5,298.1 1907.4,296.3 1911.4,295.0 C1915.4,293.7 1919.5,290.7 1924.8,289.6 C1930.1,288.5 1938.2,288.5 1943.5,288.3 C1948.8,288.1 1952.9,287.6 1956.9,288.3 C1960.9,289.0 1964.0,290.4 1967.6,292.3 C1971.2,294.2 1974.4,298.5 1978.4,299.8 C1982.4,301.1 1987.2,300.2 1991.7,300.3 C1996.2,300.4 2001.5,301.4 2005.1,300.3 C2008.7,299.2 2010.5,297.2 2013.2,293.6 C2015.9,290.0 2018.8,283.8 2021.2,278.9 C2023.7,274.0 2025.5,267.2 2027.9,264.2 C2030.4,261.2 2033.5,260.0 2035.9,260.7 C2038.4,261.4 2040.1,264.9 2042.6,268.2 C2045.0,271.4 2048.1,275.3 2050.6,280.2 C2053.1,285.1 2055.3,289.8 2057.3,297.6 C2059.3,305.4 2061.1,318.6 2062.7,327.1 C2064.3,335.6 2064.7,342.0 2066.7,348.5 C2068.7,355.0 2072.0,362.8 2074.7,365.9 C2077.4,369.0 2080.5,367.4 2082.8,367.3 C2085.2,367.2 2086.7,365.1 2088.8,365.1 C2090.9,365.1 2093.1,369.9 2095.3,367.3 C2097.5,364.8 2099.3,355.6 2101.9,349.8 C2104.5,344.0 2107.0,337.3 2110.7,332.3 C2114.3,327.3 2119.8,321.1 2123.8,319.6 C2127.8,318.1 2131.2,322.1 2134.8,323.5 C2138.5,324.9 2142.0,327.1 2145.7,327.9 C2149.3,328.7 2153.0,328.3 2156.7,328.3 C2160.3,328.3 2163.9,328.1 2167.6,327.9 C2171.2,327.6 2174.9,327.2 2178.6,326.8 C2182.2,326.4 2186.2,326.3 2189.5,325.3 C2192.8,324.3 2195.0,323.2 2198.3,320.9 C2201.6,318.6 2205.5,313.9 2209.2,311.5 C2212.8,309.1 2216.5,307.7 2220.2,306.4 C2223.9,305.1 2228.3,303.7 2231.2,303.8 C2234.1,303.9 2235.1,306.6 2237.7,307.1 C2240.2,307.7 2242.8,307.4 2246.5,307.1 C2250.2,306.9 2255.6,306.5 2259.6,305.6 C2263.6,304.7 2266.9,302.6 2270.6,301.6 C2274.2,300.6 2278.2,301.4 2281.5,299.4 C2284.8,297.4 2287.4,291.4 2290.3,289.6 C2293.2,287.8 2295.6,288.5 2299.1,288.5 C2302.6,288.5 2309.1,289.4 2311.1,289.6" fill="none" stroke="#f23645" stroke-width="1.5" stroke-linejoin="round"/>
<path d="M15.0,208.0 C15.5,209.7 16.4,215.0 17.9,217.9 C19.3,220.8 21.8,224.4 23.7,225.7 C25.6,227.0 27.3,226.7 29.6,225.7 C31.9,224.7 34.8,223.1 37.4,219.9 C40.0,216.7 42.5,212.2 45.1,206.3 C47.7,200.5 51.0,191.3 52.9,184.8 C54.8,178.3 55.7,173.5 56.8,167.3 C57.9,161.2 58.9,152.6 59.7,147.9 C60.5,143.2 59.6,140.7 61.7,139.1 C63.8,137.5 65.8,138.2 72.4,138.1 C79.1,138.0 94.3,137.6 101.6,138.4 C108.9,139.2 104.1,142.1 116.0,143.0 C127.9,143.9 162.1,140.9 172.8,143.9 C183.5,146.9 177.9,156.0 180.0,161.0 C182.1,166.0 183.4,168.8 185.5,174.0 C187.6,179.2 190.4,186.7 192.8,192.2 C195.2,197.7 197.6,203.2 200.0,206.8 C202.4,210.4 204.7,213.2 207.4,214.0 C210.2,214.8 213.2,213.7 216.5,211.4 C219.8,209.1 223.8,202.5 227.4,200.4 C231.1,198.3 235.7,199.2 238.4,198.6 C241.2,198.0 241.8,198.5 243.9,196.8 C246.0,195.1 249.1,190.0 251.2,188.5 C253.3,187.0 254.2,187.0 256.6,187.6 C259.0,188.2 263.1,189.0 265.8,192.2 C268.5,195.4 270.6,203.2 273.0,206.8 C275.4,210.4 277.6,212.0 280.4,214.0 C283.1,216.0 286.2,216.9 289.5,218.6 C292.8,220.3 296.8,222.7 300.4,224.1 C304.0,225.5 308.0,227.1 311.4,226.9 C314.8,226.8 317.5,223.3 320.5,223.2 C323.5,223.0 326.2,224.8 329.6,226.0 C333.0,227.2 336.6,229.4 340.6,230.5 C344.6,231.6 348.8,231.9 353.4,232.3 C358.0,232.8 363.4,233.6 368.0,233.2 C372.6,232.8 377.8,231.4 381.0,230.0 C384.2,228.6 385.3,226.7 387.5,224.5 C389.7,222.3 391.5,218.5 394.1,216.8 C396.7,215.2 398.1,215.0 402.9,214.6 C407.6,214.2 417.9,214.2 422.6,214.6 C427.3,215.0 427.7,216.8 431.3,216.8 C434.9,216.8 440.1,215.2 444.5,214.6 C448.9,214.0 452.5,213.1 457.6,213.1 C462.7,213.1 471.5,211.2 475.1,214.6 C478.8,217.9 477.7,225.7 479.5,233.2 C481.3,240.7 483.2,251.5 486.1,259.5 C489.0,267.5 493.4,274.1 497.0,281.4 C500.6,288.7 505.1,298.0 508.0,303.3 C510.9,308.6 512.4,312.5 514.6,313.2 C516.8,313.9 519.5,311.9 521.1,307.7 C522.7,303.5 521.8,291.5 524.4,288.0 C527.0,284.5 531.9,287.4 536.5,286.9 C541.1,286.3 547.4,286.5 551.8,284.7 C556.2,282.9 558.8,277.5 562.8,276.0 C566.8,274.5 570.2,276.2 575.8,275.9 C581.4,275.6 590.1,274.2 596.4,274.3 C602.7,274.4 608.5,276.9 613.8,276.7 C619.1,276.4 622.7,275.3 628.0,272.8 C633.3,270.3 639.9,263.6 645.4,261.7 C650.9,259.8 656.5,261.3 661.2,261.7 C665.9,262.1 669.1,263.8 673.8,264.1 C678.5,264.4 685.6,263.4 689.6,263.3 C693.6,263.2 694.3,264.6 697.5,263.3 C700.7,262.0 705.7,257.2 708.6,255.4 C711.5,253.6 712.4,251.9 715.0,252.2 C717.6,252.5 720.2,257.8 724.4,257.0 C728.6,256.2 734.9,251.2 740.2,247.5 C745.5,243.8 752.6,237.2 756.3,234.8 C760.0,232.4 760.2,232.9 762.6,232.9 C765.0,232.9 767.4,232.9 770.6,234.8 C773.8,236.7 778.2,241.7 781.6,244.3 C785.0,246.9 788.5,249.2 791.1,250.6 C793.7,252.0 794.8,252.4 797.4,252.5 C800.0,252.6 803.2,251.3 806.9,250.9 C810.6,250.5 816.8,249.9 819.6,249.8 C822.5,249.7 821.9,249.1 824.0,250.5 C826.1,251.9 829.2,256.6 832.2,258.5 C835.2,260.4 838.5,260.9 841.7,261.7 C844.9,262.5 847.5,263.2 851.2,263.3 C854.9,263.4 860.6,262.8 863.8,262.0 C867.0,261.2 866.8,259.2 870.2,258.5 C873.6,257.8 878.1,257.8 884.4,257.7 C890.7,257.6 902.6,257.8 908.1,257.7 C913.6,257.6 915.2,257.5 917.6,257.0 C920.0,256.5 920.3,255.1 922.3,254.6 C924.3,254.1 927.9,251.8 929.4,253.8 C930.9,255.8 930.3,262.7 931.0,266.4 C931.7,270.1 931.9,273.2 933.4,275.9 C934.9,278.5 937.9,281.1 939.7,282.3 C941.6,283.5 943.0,283.1 944.5,283.0 C946.0,282.9 946.6,282.8 948.8,281.4 C951.0,280.0 954.6,278.9 957.5,274.9 C960.4,270.9 963.7,264.2 966.3,257.3 C968.9,250.4 970.9,241.7 972.9,233.2 C974.9,224.7 975.4,210.7 978.3,206.5 C981.2,202.3 986.9,206.5 990.4,208.0 C993.9,209.5 995.8,212.6 999.1,215.7 C1002.4,218.8 1006.1,224.0 1010.1,226.7 C1014.1,229.4 1019.2,230.6 1023.2,232.1 C1027.2,233.6 1030.9,233.4 1034.2,235.4 C1037.5,237.4 1040.1,240.2 1043.0,244.2 C1045.9,248.2 1048.4,252.6 1051.7,259.5 C1055.0,266.4 1059.4,279.0 1062.7,285.8 C1066.0,292.6 1068.5,298.3 1071.4,300.1 C1074.3,301.9 1076.6,298.1 1080.2,296.8 C1083.8,295.5 1090.4,290.6 1093.3,292.4 C1096.2,294.2 1096.2,302.4 1097.7,307.7 C1099.2,313.0 1099.9,322.4 1102.1,324.2 C1104.3,326.0 1108.0,322.2 1110.9,318.7 C1113.8,315.2 1116.7,309.9 1119.6,303.3 C1122.5,296.7 1125.8,288.3 1128.4,279.2 C1131.0,270.1 1133.4,257.6 1135.0,248.6 C1136.6,239.6 1137.1,230.5 1138.0,225.0 C1138.9,219.5 1139.3,218.3 1140.2,215.8 C1141.1,213.3 1142.2,210.6 1143.6,209.9 C1145.0,209.2 1146.7,213.7 1148.7,211.6 C1150.7,209.5 1153.3,200.8 1155.6,197.1 C1157.9,193.4 1160.4,190.4 1162.4,189.4 C1164.4,188.4 1165.5,189.7 1167.5,191.0 C1169.5,192.3 1172.3,194.7 1174.3,197.1 C1176.3,199.5 1177.7,201.9 1179.4,205.6 C1181.1,209.3 1182.9,215.8 1184.5,219.3 C1186.1,222.9 1187.4,226.3 1188.8,226.9 C1190.2,227.5 1191.7,224.4 1193.0,222.7 C1194.3,221.0 1194.1,218.1 1196.4,216.7 C1198.7,215.3 1203.6,214.7 1206.7,214.1 C1209.8,213.5 1211.5,213.3 1215.2,213.3 C1218.9,213.3 1225.4,214.5 1228.8,214.1 C1232.2,213.7 1232.2,211.5 1235.6,210.7 C1239.0,209.8 1244.2,210.0 1249.3,209.0 C1254.4,208.0 1261.8,205.9 1266.3,204.8 C1270.8,203.7 1273.7,203.8 1276.5,202.2 C1279.3,200.6 1280.5,197.4 1283.3,195.4 C1286.1,193.4 1290.1,192.0 1293.5,190.3 C1296.9,188.6 1300.4,187.3 1303.8,185.2 C1307.2,183.1 1311.3,178.9 1314.0,177.5 C1316.7,176.1 1317.9,177.9 1320.0,176.9 C1322.1,175.9 1324.5,172.8 1326.7,171.5 C1328.9,170.2 1331.2,168.7 1333.4,168.8 C1335.6,168.9 1337.9,171.2 1340.1,172.2 C1342.3,173.2 1343.5,174.3 1346.8,174.9 C1350.1,175.5 1355.6,175.7 1360.1,175.9 C1364.5,176.1 1369.0,176.1 1373.5,175.9 C1378.0,175.7 1383.6,175.2 1386.9,174.9 C1390.2,174.6 1391.4,173.8 1393.6,173.8 C1395.8,173.8 1397.0,174.8 1400.3,174.9 C1403.6,175.0 1409.1,174.3 1413.6,174.2 C1418.0,174.1 1423.2,174.5 1427.0,174.2 C1430.8,173.9 1433.1,172.6 1436.4,172.2 C1439.8,171.8 1443.1,171.7 1447.1,171.5 C1451.1,171.3 1456.5,171.3 1460.5,171.1 C1464.5,170.9 1468.5,171.0 1471.0,170.5 C1473.5,170.0 1472.5,168.4 1475.2,168.2 C1477.9,168.0 1483.0,168.8 1487.2,169.2 C1491.4,169.6 1496.8,170.7 1500.6,170.8 C1504.4,171.0 1505.2,169.6 1510.0,170.1 C1514.8,170.6 1523.4,173.0 1529.5,173.8 C1535.6,174.6 1541.6,173.0 1546.5,175.0 C1551.4,177.0 1554.7,182.6 1558.7,186.0 C1562.8,189.4 1566.8,193.5 1570.8,195.7 C1574.8,197.9 1578.9,198.8 1583.0,199.3 C1587.1,199.8 1592.0,198.4 1595.2,198.6 C1598.5,198.8 1599.7,198.6 1602.5,200.6 C1605.3,202.6 1609.0,206.2 1612.2,210.3 C1615.4,214.4 1618.7,219.2 1621.9,224.9 C1625.2,230.6 1628.1,237.5 1631.7,244.4 C1635.3,251.3 1639.8,261.0 1643.8,266.3 C1647.8,271.6 1652.8,275.0 1656.0,276.0 C1659.2,277.0 1660.5,274.1 1663.3,272.3 C1666.1,270.5 1669.8,266.2 1673.0,265.0 C1676.2,263.8 1679.9,264.4 1682.7,265.0 C1685.5,265.6 1687.6,264.8 1690.0,268.7 C1692.4,272.6 1695.3,281.2 1697.3,288.1 C1699.3,295.0 1700.8,303.9 1702.2,310.0 C1703.6,316.1 1703.9,321.6 1705.8,324.9 C1707.7,328.2 1710.7,328.4 1713.6,329.8 C1716.5,331.2 1720.4,333.6 1723.3,333.3 C1726.2,333.0 1728.5,330.4 1731.1,327.9 C1733.7,325.4 1736.3,320.2 1738.9,318.5 C1741.5,316.8 1744.4,318.4 1746.7,317.7 C1749.0,317.0 1749.9,315.8 1752.5,314.2 C1755.1,312.6 1759.4,310.2 1762.3,308.4 C1765.2,306.6 1767.4,304.9 1770.0,303.5 C1772.6,302.1 1775.2,300.8 1777.8,300.2 C1780.4,299.6 1782.3,300.2 1785.6,299.6 C1788.8,299.0 1793.4,296.9 1797.3,296.3 C1801.2,295.7 1804.5,295.8 1809.0,295.8 C1813.5,295.8 1820.0,296.5 1824.5,296.3 C1829.0,296.1 1832.3,294.5 1836.2,294.8 C1840.1,295.1 1845.0,297.3 1847.9,298.3 C1850.8,299.3 1851.8,298.5 1853.7,300.6 C1855.6,302.7 1857.2,308.5 1859.5,310.7 C1861.8,312.9 1864.0,313.5 1867.3,313.9 C1870.5,314.3 1875.1,313.3 1879.0,313.3 C1882.9,313.3 1887.1,314.3 1890.7,313.9 C1894.3,313.5 1898.1,311.9 1900.7,311.0 C1903.3,310.1 1902.5,308.6 1906.1,308.4 C1909.7,308.2 1916.8,309.6 1922.1,309.7 C1927.4,309.8 1933.7,308.8 1938.2,309.2 C1942.7,309.6 1944.9,311.0 1948.9,312.4 C1952.9,313.8 1957.8,317.3 1962.3,317.7 C1966.8,318.1 1971.2,315.4 1975.7,315.0 C1980.2,314.6 1984.2,314.9 1989.1,315.0 C1994.0,315.1 2001.8,315.1 2005.1,315.8 C2008.4,316.5 2007.5,318.6 2009.1,319.1 C2010.7,319.7 2012.5,315.5 2014.5,319.1 C2016.5,322.7 2018.8,331.6 2021.2,340.5 C2023.7,349.4 2026.8,361.9 2029.2,372.6 C2031.7,383.3 2033.2,396.2 2035.9,404.7 C2038.6,413.2 2041.7,418.6 2045.3,423.5 C2048.9,428.4 2053.7,434.4 2057.3,434.2 C2060.9,434.0 2063.3,423.7 2066.7,422.1 C2070.0,420.5 2073.3,424.1 2077.4,424.8 C2081.5,425.5 2086.9,425.5 2091.0,426.5 C2095.1,427.5 2098.2,431.3 2101.9,430.9 C2105.6,430.5 2109.2,430.1 2112.9,424.3 C2116.6,418.5 2119.8,404.2 2123.8,395.8 C2127.8,387.4 2133.3,379.0 2137.0,373.9 C2140.7,368.8 2140.6,366.7 2145.7,365.1 C2150.8,363.5 2160.3,364.5 2167.6,364.1 C2174.9,363.7 2183.7,364.3 2189.5,362.5 C2195.3,360.7 2198.3,355.0 2202.7,353.1 C2207.1,351.2 2211.4,352.2 2215.8,350.9 C2220.2,349.6 2225.3,348.1 2229.0,345.4 C2232.7,342.7 2235.5,337.8 2237.7,334.5 C2239.9,331.2 2240.3,327.9 2242.1,325.7 C2243.9,323.5 2244.7,322.4 2248.7,321.3 C2252.7,320.2 2261.4,320.0 2266.2,319.1 C2270.9,318.2 2273.2,316.9 2277.2,315.9 C2281.2,314.9 2286.2,313.8 2290.0,313.0 C2293.8,312.2 2296.5,311.6 2300.0,311.0 C2303.5,310.4 2309.2,309.8 2311.0,309.5" fill="none" stroke="#089981" stroke-width="1.5" stroke-linejoin="round"/>
<line x1="15" y1="304.9" x2="2336" y2="304.9" stroke="#2962ff" stroke-width="1" stroke-dasharray="1,2"/>
<path d="M15.0,129.3 C21.3,129.8 39.7,131.3 52.9,132.3 C66.1,133.3 82.2,134.5 94.0,135.2 C105.8,135.9 109.5,135.5 123.5,136.5 C137.6,137.5 162.8,139.4 178.3,141.1 C193.8,142.8 204.1,144.8 216.5,146.6 C228.9,148.4 240.8,150.2 253.0,152.0 C265.2,153.8 277.3,155.4 289.5,157.5 C301.7,159.6 313.8,162.8 326.0,164.8 C338.2,166.8 353.5,168.3 362.5,169.4 C371.5,170.5 369.6,170.2 380.0,171.2 C390.4,172.2 408.2,174.1 424.8,175.2 C441.4,176.3 466.7,176.7 479.5,178.0 C492.3,179.3 492.3,180.5 501.4,182.9 C510.5,185.3 524.5,190.0 534.3,192.7 C544.1,195.4 550.5,196.4 560.0,199.2 C569.5,202.0 581.1,206.5 591.6,209.5 C602.1,212.5 612.7,214.9 623.2,217.4 C633.8,219.9 645.7,222.6 654.9,224.5 C664.1,226.4 670.7,227.6 678.6,228.8 C686.5,230.0 694.4,230.8 702.3,231.7 C710.2,232.6 716.4,233.3 726.0,234.0 C735.6,234.7 748.1,235.6 760.0,236.1 C771.9,236.6 783.2,236.5 797.4,237.2 C811.5,237.9 829.1,239.1 844.9,240.4 C860.7,241.7 878.1,243.9 892.3,245.1 C906.5,246.3 918.6,247.6 930.2,247.8 C941.8,248.0 953.0,247.2 961.9,246.4 C970.8,245.6 976.5,244.1 983.8,243.1 C991.1,242.1 998.4,241.1 1005.7,240.3 C1013.0,239.5 1020.3,238.6 1027.6,238.1 C1034.9,237.6 1042.2,237.3 1049.5,237.2 C1056.8,237.1 1064.1,237.5 1071.4,237.6 C1078.7,237.7 1086.0,238.0 1093.3,237.6 C1100.6,237.2 1109.1,236.3 1115.2,235.4 C1121.3,234.5 1124.7,233.4 1130.0,232.0 C1135.3,230.6 1139.9,228.5 1147.0,226.9 C1154.1,225.3 1164.1,223.7 1172.6,222.7 C1181.1,221.7 1188.2,221.6 1198.1,221.0 C1208.0,220.4 1220.8,220.2 1232.2,219.3 C1243.6,218.4 1254.9,217.2 1266.3,215.8 C1277.7,214.4 1291.5,211.9 1300.4,210.7 C1309.4,209.4 1312.3,209.5 1320.0,208.3 C1327.7,207.1 1337.9,205.2 1346.8,203.6 C1355.7,202.0 1364.6,200.7 1373.5,198.9 C1382.4,197.1 1393.6,194.2 1400.3,192.9 C1407.0,191.6 1406.9,191.7 1413.6,190.9 C1420.3,190.1 1431.5,189.0 1440.4,188.2 C1449.3,187.4 1458.3,186.9 1467.2,186.2 C1476.1,185.5 1486.8,184.5 1493.9,183.9 C1501.0,183.3 1503.3,183.4 1510.0,182.5 C1516.7,181.6 1526.2,180.1 1534.3,178.7 C1542.4,177.2 1550.6,175.1 1558.7,173.8 C1566.8,172.5 1574.9,171.3 1583.0,170.9 C1591.1,170.5 1599.2,170.7 1607.3,171.4 C1615.4,172.1 1623.6,173.8 1631.7,175.0 C1639.8,176.2 1647.9,177.6 1656.0,178.7 C1664.1,179.8 1673.8,180.6 1680.3,181.6 C1686.8,182.6 1690.0,183.5 1694.9,184.7 C1699.9,185.9 1702.7,187.1 1710.0,188.9 C1717.3,190.7 1727.6,192.9 1738.9,195.6 C1750.2,198.3 1764.8,202.1 1777.8,205.3 C1790.8,208.5 1803.7,211.7 1816.7,215.0 C1829.7,218.3 1843.4,222.0 1855.6,225.1 C1867.8,228.2 1877.6,229.8 1890.0,233.4 C1902.4,237.0 1916.8,242.6 1930.2,246.8 C1943.6,251.0 1956.5,254.8 1970.3,258.8 C1984.1,262.8 1999.8,266.4 2013.2,270.9 C2026.6,275.4 2039.5,280.9 2050.6,285.6 C2061.7,290.3 2071.4,295.4 2080.0,299.0 C2088.6,302.6 2094.6,304.8 2101.9,307.1 C2109.2,309.4 2116.5,310.9 2123.8,312.6 C2131.1,314.3 2138.4,315.9 2145.7,317.4 C2153.0,318.8 2160.3,320.3 2167.6,321.3 C2174.9,322.3 2182.2,323.1 2189.5,323.5 C2196.8,323.9 2204.1,323.8 2211.4,324.0 C2218.7,324.2 2226.0,324.3 2233.3,324.6 C2240.6,324.9 2247.9,325.4 2255.2,325.7 C2262.5,326.0 2269.9,326.0 2277.2,326.2 C2284.5,326.4 2293.4,326.6 2299.1,326.8 C2304.8,327.0 2309.1,327.4 2311.1,327.5" fill="none" stroke="#f23645" stroke-width="4.2" stroke-linejoin="round" stroke-linecap="round"/>
<path d="M15.0,182.9 C16.8,180.8 22.0,174.8 25.7,170.2 C29.4,165.6 33.5,160.6 37.4,155.6 C41.3,150.6 45.1,145.0 49.0,140.1 C52.9,135.2 57.5,128.3 60.7,126.4 C64.0,124.5 64.9,127.8 68.5,128.4 C72.1,129.1 77.5,129.6 82.1,130.3 C86.7,131.1 90.6,132.2 96.0,132.9 C101.4,133.6 106.8,134.4 114.4,134.7 C122.0,135.0 134.2,135.1 141.8,134.7 C149.4,134.2 154.8,132.8 160.0,132.0 C165.2,131.2 169.1,129.9 172.8,130.2 C176.5,130.5 179.3,132.1 182.0,133.8 C184.7,135.5 186.3,137.5 189.0,140.2 C191.7,142.9 195.1,146.4 198.2,150.2 C201.3,154.0 204.3,159.7 207.4,163.0 C210.5,166.3 213.2,167.9 216.5,170.3 C219.8,172.7 223.5,176.1 227.4,177.6 C231.3,179.1 235.9,179.4 240.2,179.4 C244.5,179.4 248.7,177.4 253.0,177.6 C257.3,177.8 261.9,179.1 265.8,180.3 C269.8,181.5 272.8,182.6 276.7,184.9 C280.6,187.2 284.9,190.7 289.5,194.0 C294.1,197.3 299.1,201.9 304.0,205.0 C308.9,208.1 313.8,210.3 318.7,212.3 C323.6,214.3 329.1,215.6 333.3,216.8 C337.6,218.0 340.9,219.0 344.2,219.6 C347.5,220.2 349.4,220.8 353.4,220.5 C357.4,220.2 361.6,219.0 368.0,217.7 C374.4,216.3 384.3,213.4 391.9,212.4 C399.5,211.4 406.5,212.4 413.8,211.8 C421.1,211.2 428.4,209.7 435.7,209.1 C443.0,208.5 451.0,208.0 457.6,208.0 C464.2,208.0 470.7,207.4 475.1,209.1 C479.5,210.8 480.2,213.9 483.9,217.9 C487.5,221.9 493.0,228.4 497.0,233.2 C501.0,237.9 504.7,241.7 508.0,246.4 C511.3,251.2 514.2,257.7 516.8,261.7 C519.3,265.7 520.0,268.3 523.3,270.5 C526.6,272.7 531.8,274.0 536.5,274.9 C541.2,275.8 547.9,276.3 551.8,276.0 C555.7,275.7 556.0,273.8 560.0,273.0 C564.0,272.2 570.5,271.9 575.8,271.2 C581.1,270.5 586.3,270.0 591.6,268.8 C596.9,267.6 602.1,265.8 607.4,264.1 C612.7,262.4 617.9,260.2 623.2,258.5 C628.5,256.8 633.7,254.9 639.0,253.8 C644.3,252.8 649.6,252.7 654.9,252.2 C660.2,251.7 665.4,251.4 670.7,250.6 C676.0,249.8 681.2,248.8 686.5,247.5 C691.8,246.2 697.0,245.1 702.3,242.7 C707.6,240.3 712.8,236.3 718.1,233.2 C723.4,230.0 728.6,226.3 733.9,223.8 C739.2,221.3 746.0,219.3 749.7,218.2 C753.4,217.1 753.6,217.1 756.3,217.1 C759.0,217.1 762.6,217.3 765.8,218.2 C769.0,219.0 772.1,220.5 775.3,222.2 C778.5,223.9 781.1,226.7 784.8,228.5 C788.5,230.3 792.7,231.7 797.4,233.2 C802.1,234.7 807.9,236.4 813.2,237.7 C818.5,239.0 823.7,239.9 829.0,241.1 C834.3,242.3 839.6,243.5 844.9,245.1 C850.2,246.7 855.4,249.1 860.7,250.6 C866.0,252.1 871.2,253.3 876.5,253.8 C881.8,254.3 887.0,253.6 892.3,253.5 C897.6,253.4 902.8,253.2 908.1,253.0 C913.4,252.8 920.2,252.3 923.9,252.2 C927.6,252.1 927.6,254.1 930.2,252.2 C932.8,250.2 935.9,244.8 939.7,240.5 C943.5,236.2 948.7,231.6 953.1,226.7 C957.5,221.8 962.3,215.7 966.3,211.3 C970.3,206.9 972.8,202.0 977.2,200.4 C981.6,198.8 987.9,200.2 992.6,201.5 C997.4,202.8 1000.6,205.6 1005.7,208.0 C1010.8,210.4 1017.7,212.8 1023.2,215.7 C1028.7,218.6 1033.8,222.1 1038.6,225.6 C1043.3,229.1 1047.7,232.3 1051.7,236.5 C1055.7,240.7 1059.1,246.4 1062.7,250.8 C1066.3,255.2 1069.9,259.9 1073.6,262.8 C1077.2,265.7 1080.9,267.4 1084.6,268.3 C1088.2,269.2 1091.8,271.9 1095.5,268.3 C1099.2,264.7 1102.5,254.4 1106.5,246.4 C1110.5,238.4 1115.6,228.1 1119.6,220.1 C1123.6,212.1 1127.4,204.9 1130.6,198.2 C1133.8,191.5 1136.0,185.7 1138.5,180.1 C1141.0,174.5 1142.7,168.5 1145.3,164.7 C1147.9,160.9 1151.1,158.8 1153.9,157.1 C1156.8,155.3 1159.3,154.3 1162.4,154.2 C1165.5,154.0 1169.5,154.9 1172.6,156.2 C1175.7,157.5 1178.3,159.6 1181.1,162.2 C1183.9,164.8 1186.8,168.3 1189.6,171.6 C1192.4,174.9 1195.2,179.0 1198.1,181.8 C1200.9,184.6 1202.4,187.6 1206.7,188.6 C1211.0,189.6 1218.0,188.0 1223.7,187.7 C1229.4,187.4 1235.0,186.9 1240.7,186.9 C1246.4,186.9 1253.5,187.4 1257.8,187.7 C1262.1,188.0 1262.9,189.0 1266.3,188.6 C1269.7,188.2 1274.0,186.9 1278.2,185.2 C1282.5,183.5 1286.7,180.8 1291.8,178.4 C1296.9,176.0 1304.6,172.5 1308.9,170.7 C1313.2,168.8 1313.3,168.4 1317.4,167.3 C1321.5,166.2 1328.5,164.4 1333.4,164.1 C1338.3,163.8 1342.3,164.9 1346.8,165.5 C1351.2,166.1 1355.6,166.8 1360.1,167.5 C1364.5,168.2 1369.0,168.8 1373.5,169.5 C1378.0,170.2 1383.6,171.5 1386.9,171.5 C1390.2,171.5 1390.2,170.3 1393.6,169.5 C1396.9,168.7 1401.4,167.6 1407.0,166.8 C1412.6,166.0 1420.3,165.4 1427.0,164.8 C1433.7,164.2 1440.4,163.8 1447.1,163.5 C1453.8,163.2 1460.5,163.0 1467.2,162.8 C1473.9,162.6 1481.6,161.9 1487.2,162.1 C1492.8,162.3 1496.8,164.1 1500.6,164.1 C1504.4,164.1 1505.2,162.0 1510.0,162.0 C1514.8,162.0 1523.4,163.8 1529.5,164.1 C1535.6,164.4 1541.6,163.3 1546.5,164.1 C1551.4,164.9 1553.8,167.3 1558.7,168.9 C1563.6,170.5 1569.6,172.2 1575.7,173.8 C1581.8,175.4 1588.7,176.3 1595.2,178.7 C1601.7,181.1 1609.3,185.2 1614.6,188.4 C1619.9,191.6 1622.7,194.1 1626.8,198.1 C1630.9,202.1 1635.0,207.4 1639.0,212.7 C1643.0,218.0 1647.4,225.3 1651.1,229.8 C1654.8,234.3 1656.8,236.5 1660.9,239.5 C1665.0,242.5 1670.7,245.4 1675.5,248.0 C1680.3,250.6 1685.5,252.2 1690.0,255.3 C1694.5,258.4 1699.2,263.3 1702.2,266.3 C1705.2,269.3 1705.6,270.6 1707.8,273.4 C1710.0,276.2 1712.7,279.5 1715.6,283.1 C1718.5,286.7 1722.1,291.9 1725.3,294.8 C1728.5,297.7 1731.8,299.6 1735.0,300.6 C1738.2,301.6 1740.8,301.6 1744.7,301.0 C1748.6,300.4 1754.2,298.1 1758.4,296.7 C1762.6,295.3 1766.1,293.8 1770.0,292.8 C1773.9,291.8 1777.2,291.5 1781.7,290.9 C1786.2,290.3 1791.5,289.6 1797.3,289.0 C1803.1,288.4 1810.2,287.8 1816.7,287.4 C1823.2,287.0 1831.0,286.5 1836.2,286.6 C1841.4,286.7 1844.0,287.0 1847.9,288.0 C1851.8,289.0 1855.6,291.0 1859.5,292.8 C1863.4,294.6 1867.3,297.1 1871.2,298.7 C1875.1,300.3 1879.8,301.6 1882.9,302.6 C1886.0,303.6 1885.2,304.6 1890.0,304.5 C1894.8,304.4 1904.7,302.5 1911.4,301.7 C1918.1,300.9 1922.6,299.8 1930.2,299.8 C1937.8,299.8 1948.0,300.6 1956.9,301.7 C1965.8,302.8 1976.1,305.3 1983.7,306.2 C1991.3,307.1 1997.5,307.0 2002.4,307.0 C2007.3,307.0 2010.1,305.3 2013.2,306.2 C2016.3,307.1 2018.1,308.9 2021.2,312.4 C2024.3,315.9 2027.9,321.5 2031.9,327.1 C2035.9,332.7 2041.3,339.3 2045.3,345.8 C2049.3,352.3 2052.9,359.6 2056.0,365.9 C2059.1,372.1 2060.9,378.4 2064.0,383.3 C2067.1,388.2 2069.8,393.1 2074.7,395.4 C2079.5,397.7 2088.6,397.4 2093.1,396.9 C2097.6,396.4 2098.2,396.0 2101.9,392.5 C2105.6,389.0 2110.6,382.1 2115.0,376.1 C2119.4,370.1 2124.2,361.0 2128.2,356.4 C2132.2,351.8 2135.1,350.2 2139.1,348.7 C2143.1,347.2 2147.6,347.6 2152.3,347.2 C2157.1,346.8 2162.1,347.0 2167.6,346.5 C2173.1,346.0 2180.0,345.6 2185.1,344.3 C2190.2,343.0 2193.9,340.9 2198.3,338.9 C2202.7,336.9 2207.0,334.1 2211.4,332.3 C2215.8,330.5 2220.2,329.5 2224.6,327.9 C2229.0,326.2 2233.3,324.3 2237.7,322.4 C2242.1,320.5 2246.5,318.1 2250.9,316.5 C2255.3,314.9 2259.6,314.0 2264.0,312.6 C2268.4,311.2 2272.9,309.5 2277.2,308.2 C2281.5,306.9 2284.4,306.2 2290.0,305.0 C2295.6,303.8 2307.5,301.7 2311.0,301.0" fill="none" stroke="#00bcd4" stroke-width="4.2" stroke-linejoin="round" stroke-linecap="round"/>
<polyline points="15.0,123.0 18.9,116.7 22.8,121.6 26.5,120.5 30.4,120.0 34.0,123.0 37.7,123.8 41.4,131.0 46.9,128.3 54.2,133.8 59.6,129.2 63.3,132.0 68.8,132.9 76.0,130.2 83.4,136.5 90.7,130.2 98.9,127.4 101.6,133.8 109.0,136.5 116.2,138.4 121.7,139.3 125.4,129.2 130.8,130.2 136.3,134.7 141.8,136.5 145.4,132.0 150.9,124.7 155.5,123.2 160.0,125.6 161.9,132.0 167.3,131.0 171.0,133.8 174.5,135.5 179.2,148.4 182.0,163.0 183.6,175.8 187.3,189.5 191.9,174.0 196.4,192.2 201.0,201.3 205.5,179.4 210.1,170.3 214.7,164.8 219.2,177.6 223.8,183.0 228.4,180.3 231.1,184.9 234.7,174.9 240.2,179.4 244.8,182.2 252.1,171.2 256.6,179.4 259.4,175.8 263.0,195.0 267.6,187.6 271.2,194.0 274.9,210.4 279.5,215.0 284.0,206.8 288.6,201.3 291.3,210.4 295.9,209.5 300.4,214.0 307.7,221.4 311.4,211.4 316.0,214.0 320.5,211.4 326.0,221.4 331.5,228.7 334.2,220.5 338.8,226.9 343.3,228.7 346.0,225.0 350.6,209.5 353.4,215.9 356.1,210.4 362.5,210.4 368.0,207.7 371.0,209.0 373.4,211.4 378.0,214.0 383.1,214.6 391.9,212.4 402.9,212.4 413.8,211.3 422.6,209.1 425.9,203.7 435.7,207.0 446.7,209.1 457.6,211.3 462.0,214.6 466.4,212.4 476.2,210.2 477.3,215.7 479.1,268.3 483.9,269.4 488.3,266.1 493.8,263.9 497.0,272.7 501.4,276.0 508.0,283.6 512.4,285.8 519.0,274.9 527.7,271.6 532.1,270.5 545.2,272.7 555.0,272.7 562.8,270.5 564.0,273.6 566.3,265.7 571.0,267.2 575.0,269.6 579.8,264.9 583.7,268.8 588.5,264.9 594.8,265.7 598.0,261.7 600.3,253.0 604.3,256.2 607.4,255.4 610.6,243.5 614.5,251.4 617.7,252.2 619.3,244.3 623.2,245.9 626.4,251.4 629.6,252.2 632.7,258.5 635.9,256.2 639.0,253.8 641.4,257.7 643.8,241.9 647.0,249.0 650.9,260.9 654.1,251.4 658.8,260.1 663.6,248.3 667.5,252.2 671.5,238.8 673.8,238.0 677.8,242.7 681.0,251.4 684.9,236.4 688.1,244.3 692.8,227.7 695.2,244.3 697.5,234.8 703.9,234.0 708.6,236.4 712.6,231.7 715.0,220.6 719.7,211.1 724.4,207.9 728.4,204.0 733.9,215.8 737.0,213.5 740.2,224.5 743.3,223.8 746.6,229.3 749.7,213.5 754.5,220.6 760.3,227.7 765.0,225.3 769.8,232.5 772.9,223.0 776.9,234.8 781.6,248.3 785.6,243.5 788.7,245.1 793.5,240.4 796.6,238.0 799.8,243.5 802.2,234.0 806.9,229.8 813.2,242.7 819.6,237.2 821.9,237.2 825.1,254.6 829.0,257.7 832.2,255.4 836.2,250.6 841.7,249.8 844.9,253.0 849.6,251.4 854.3,255.4 859.0,253.8 867.0,253.5 871.7,259.8 876.5,255.4 879.6,252.2 889.1,252.2 897.0,249.0 901.8,253.0 905.7,249.8 909.7,252.2 917.6,251.9 927.0,251.0 929.4,250.6 931.0,196.9 934.2,195.6 938.9,202.4 943.7,199.2 946.8,205.6 951.0,192.7 956.4,196.0 960.8,205.9 963.0,197.1 966.3,201.5 969.6,196.4 975.0,201.5 981.6,201.5 988.2,203.7 992.6,210.2 998.0,212.4 1002.4,221.2 1009.0,225.6 1016.7,220.1 1020.0,225.6 1024.3,219.7 1029.8,230.0 1034.2,233.2 1039.7,244.2 1044.0,246.4 1049.5,257.3 1053.9,272.7 1056.1,284.7 1060.5,279.2 1064.9,277.1 1068.1,282.5 1075.8,274.9 1080.2,261.7 1084.6,260.6 1089.0,253.0 1093.3,242.0 1096.6,204.8 1099.9,169.7 1103.2,178.5 1107.6,203.7 1114.2,174.1 1116.3,174.1 1119.6,162.0 1124.0,169.7 1128.4,179.6 1131.7,154.4 1135.1,157.1 1137.7,151.1 1139.4,132.4 1141.9,131.5 1144.5,114.5 1147.0,118.7 1149.6,132.4 1152.1,152.8 1155.6,160.5 1158.1,157.9 1160.7,168.1 1165.8,173.3 1170.9,181.8 1175.1,198.8 1178.5,193.7 1181.1,202.2 1184.5,209.0 1187.0,208.2 1189.6,192.0 1193.9,179.2 1198.1,197.1 1203.3,197.1 1205.8,190.3 1207.5,171.6 1211.8,169.8 1215.2,163.0 1218.6,171.6 1221.1,183.5 1225.4,192.0 1230.5,203.9 1233.1,193.7 1234.8,202.2 1239.0,188.6 1244.1,192.8 1246.7,176.7 1249.3,188.6 1251.8,178.4 1256.1,180.9 1259.5,184.3 1262.9,187.7 1266.3,175.0 1269.7,171.6 1273.1,173.3 1276.5,170.7 1278.2,181.8 1281.6,171.6 1286.7,168.1 1290.1,169.8 1293.5,164.7 1300.4,163.0 1305.5,164.7 1309.7,161.3 1313.1,166.4 1319.0,165.6 1325.4,163.5 1330.7,164.8 1335.4,166.8 1337.4,175.5 1340.7,174.8 1344.1,176.2 1345.4,170.2 1348.1,172.8 1352.1,169.5 1360.1,169.5 1365.5,165.5 1373.5,168.2 1380.2,169.5 1386.9,172.2 1390.9,164.1 1395.6,159.1 1400.3,161.5 1407.0,158.8 1409.0,164.1 1415.0,168.2 1419.0,165.5 1425.7,172.2 1428.4,166.2 1433.7,166.2 1437.7,162.8 1443.0,163.5 1448.4,160.1 1452.4,165.5 1459.1,159.5 1463.8,161.5 1467.2,166.8 1472.5,163.5 1475.2,166.8 1478.5,158.1 1482.5,156.4 1487.2,160.8 1493.9,168.8 1499.3,160.8 1502.0,165.5 1504.6,161.5 1510.0,165.5 1513.3,158.8 1520.0,160.8 1523.4,165.3 1525.8,153.1 1528.2,170.1 1531.9,173.8 1536.8,168.9 1544.1,159.2 1546.5,164.1 1550.9,187.9 1555.0,176.2 1558.7,161.6 1564.0,195.2 1568.4,177.4 1570.3,195.7 1573.7,179.9 1576.9,188.4 1581.0,170.9 1583.0,182.3 1585.9,161.1 1589.0,172.6 1591.5,178.7 1595.2,178.7 1600.0,187.2 1604.9,199.3 1607.8,214.7 1609.8,205.4 1614.6,206.6 1619.5,215.2 1624.4,232.2 1629.2,237.1 1634.1,249.2 1639.0,241.9 1643.8,256.5 1648.7,262.6 1653.6,254.1 1658.4,241.9 1665.7,241.9 1671.8,248.0 1673.0,256.5 1677.9,250.4 1682.7,260.2 1687.6,262.6 1692.5,283.3 1697.3,300.3 1699.8,321.0 1702.2,308.8 1707.8,308.4 1710.7,299.1 1713.6,299.6 1715.6,308.4 1718.5,302.2 1723.3,309.4 1728.2,293.8 1732.1,285.1 1735.0,286.0 1738.9,297.7 1746.7,298.3 1751.6,290.9 1758.4,289.9 1760.3,286.0 1770.0,286.0 1773.9,288.0 1778.8,292.8 1781.7,299.6 1785.6,292.8 1789.5,291.9 1793.4,285.1 1799.2,286.0 1802.1,288.0 1805.1,282.1 1809.0,288.0 1812.8,285.1 1820.6,281.2 1824.5,285.1 1828.4,290.9 1833.3,299.1 1837.2,291.9 1842.0,293.8 1847.9,295.8 1851.8,296.7 1853.7,316.2 1856.6,308.4 1863.4,307.4 1867.3,301.6 1873.2,303.5 1878.0,302.2 1882.9,307.4 1888.7,306.5 1894.6,304.5 1897.5,301.6 1902.0,305.1 1910.1,295.0 1914.0,292.3 1917.0,295.0 1919.5,292.3 1927.5,296.3 1932.8,300.3 1936.9,309.7 1940.9,301.7 1946.2,308.4 1955.6,306.2 1961.0,313.7 1967.6,305.7 1975.7,303.5 1981.0,305.7 1984.2,315.0 1991.7,305.1 1997.1,311.0 2003.8,311.0 2007.8,285.6 2010.5,295.0 2014.5,300.3 2015.8,325.8 2021.2,348.5 2026.5,386.0 2031.9,391.4 2035.9,396.7 2039.9,378.0 2045.3,369.9 2050.6,388.7 2054.7,396.7 2058.1,419.5 2064.0,399.4 2070.7,412.8 2077.4,402.1 2080.0,404.6 2082.2,387.1 2089.9,369.5 2094.2,382.7 2098.6,358.6 2101.9,357.5 2108.5,349.8 2111.8,337.8 2115.0,356.4 2121.6,329.7 2130.4,349.8 2134.3,337.1 2138.0,349.8 2142.4,360.8 2145.7,357.5 2150.1,349.8 2153.4,358.6 2157.8,336.7 2162.1,342.1 2165.4,347.6 2169.8,326.8 2174.2,333.4 2183.0,341.0 2187.4,342.8 2190.6,347.6 2193.9,327.9 2199.4,323.5 2202.7,319.1 2208.2,313.7 2215.8,318.0 2219.1,319.1 2222.4,317.4 2230.0,313.7 2235.5,315.9 2241.0,310.4 2250.9,309.3 2259.6,306.4 2268.4,302.1 2272.8,303.8 2279.3,302.7 2284.8,289.6 2288.1,290.7 2295.0,296.0 2302.0,300.0 2311.0,305.0" fill="none" stroke="#2962ff" stroke-width="2.8" stroke-linejoin="round"/>
</g>
<g clip-path="url(#rsiclip)">
<polygon points="15.1,532.05 15.1,507.5 19.5,504.2 22.8,510.8 25.6,514.0 28.2,520.7 30.4,517.4 34.8,530.5 37.0,529.0 39.2,542.6 42.5,548.0 45.8,544.8 51.2,552.4 55.6,559.0 58.9,550.2 61.0,550.2 63.3,565.6 67.7,570.0 72.0,567.8 75.3,555.7 78.6,554.6 83.0,576.5 85.2,577.6 89.6,559.0 92.9,570.0 95.0,562.3 98.3,554.6 101.6,579.8 104.9,591.9 109.3,585.3 117.0,596.9 122.4,582.0 125.7,556.8 129.0,572.1 131.2,557.9 134.5,564.5 137.8,579.8 141.1,584.6 144.3,584.2 146.5,566.7 150.9,550.2 156.4,545.9 158.6,554.6 160.8,554.6 161.9,585.3 165.1,585.3 168.4,574.3 170.6,584.2 173.9,589.7 177.2,613.8 180.5,628.0 182.7,643.3 187.1,658.7 191.4,632.4 192.5,621.0 195.8,633.5 200.2,636.8 201.3,643.3 204.6,603.9 206.1,601.7 210.5,593.0 213.8,580.9 217.1,580.9 220.3,600.6 223.6,599.5 225.8,603.9 228.0,598.9 231.3,605.0 233.5,586.4 235.7,585.7 239.0,594.1 242.2,596.2 244.4,597.3 247.7,585.7 252.1,574.3 255.0,579.8 256.5,593.0 259.3,583.8 262.4,611.6 264.6,601.7 268.5,596.2 271.2,605.0 274.7,625.4 277.3,618.2 279.5,623.6 283.9,613.8 287.8,597.8 290.4,610.5 292.6,609.8 295.3,606.1 298.1,612.7 302.5,611.6 306.9,621.9 310.1,617.1 311.9,594.1 315.0,600.6 318.9,594.1 322.2,597.3 326.6,614.9 329.4,606.5 331.6,617.1 334.7,597.3 337.5,608.3 340.8,608.3 343.4,609.4 346.3,589.7 349.6,582.0 351.3,567.1 354.0,579.8 356.1,570.0 361.6,570.6 363.2,565.6 367.1,567.8 370.4,564.9 373.7,575.4 378.1,579.8 381.3,578.1 385.7,585.3 387.9,582.0 393.4,578.7 397.6,572.8 401.6,580.3 404.9,572.1 414.7,573.2 416.9,576.5 423.5,561.2 426.1,541.5 430.0,549.1 433.3,555.7 436.6,555.3 438.4,570.0 441.0,565.6 444.3,574.3 445.8,571.0 449.8,582.0 452.4,579.8 455.2,587.5 457.4,583.1 460.3,602.8 462.9,591.9 465.1,599.5 468.4,584.6 470.6,586.0 475.0,577.6 477.1,578.0 478.2,608.3 479.3,666.3 481.5,664.2 484.4,665.2 487.0,656.5 491.4,653.9 493.6,646.0 496.2,654.3 499.7,645.5 502.3,649.9 505.6,651.0 507.2,654.3 510.0,651.0 512.2,645.5 516.6,625.8 521.0,616.0 525.3,609.4 527.5,610.0 530.8,603.5 533.0,610.5 537.4,610.9 540.7,608.3 542.9,609.4 545.1,596.2 548.3,600.6 550.5,598.4 552.7,603.9 556.7,585.9 559.3,588.6 562.6,599.5 564.8,576.5 567.0,572.1 568.5,580.3 571.3,575.0 574.6,584.6 579.0,570.6 581.6,573.2 583.8,582.0 587.8,570.0 591.6,575.4 594.0,572.0 597.0,560.1 599.9,536.4 603.0,552.4 606.9,549.1 610.2,524.0 612.4,547.0 615.7,555.3 619.6,540.0 622.7,547.0 627.1,569.3 629.9,564.5 632.1,580.9 635.0,583.1 638.7,571.0 642.0,581.6 643.7,549.6 646.3,568.4 648.5,572.0 651.2,589.0 654.0,572.1 656.2,576.5 658.4,586.8 662.8,567.8 666.5,574.3 669.3,568.9 671.5,554.6 674.4,553.5 677.4,572.1 680.9,579.8 685.8,555.7 688.4,571.0 692.3,550.2 694.5,576.5 697.2,566.7 704.4,566.2 707.2,563.4 709.9,568.9 713.2,560.1 717.5,542.6 721.9,535.6 725.2,534.9 729.1,529.4 731.3,542.6 733.5,556.8 736.1,553.5 738.3,555.7 741.0,580.9 743.8,577.2 746.0,584.6 748.2,583.7 750.4,559.0 753.7,568.9 758.1,577.2 760.7,586.4 765.7,581.6 770.1,594.7 772.9,575.4 776.0,591.9 778.9,603.9 781.7,613.1 784.2,604.4 787.0,605.9 791.4,596.1 793.6,599.4 796.9,585.6 799.1,595.0 801.3,579.7 804.6,576.4 807.4,570.3 810.5,580.8 812.7,595.7 816.6,588.4 819.9,580.8 822.1,593.9 825.0,611.4 827.6,615.4 830.9,607.5 833.1,611.9 835.9,599.4 839.6,595.0 842.5,594.3 844.7,600.9 847.3,598.2 850.6,594.3 852.8,601.6 855.0,595.7 857.1,601.6 862.6,597.2 867.0,597.2 869.2,602.7 871.4,612.5 874.7,600.5 878.0,581.9 881.9,582.5 884.1,588.4 886.7,581.2 889.3,586.9 892.2,581.2 894.4,587.3 895.9,573.8 898.8,572.0 901.6,581.9 903.1,584.7 906.0,572.0 907.5,587.3 911.9,581.9 917.4,581.9 919.6,575.9 924.0,578.1 927.2,583.0 929.4,578.6 931.0,515.0 932.3,493.1 934.9,492.7 938.9,512.4 942.6,509.6 944.8,509.6 947.0,529.3 950.7,517.2 954.2,527.1 956.4,526.0 958.6,545.7 961.6,554.0 963.4,543.1 966.7,551.2 968.9,544.6 971.5,551.7 975.4,558.6 980.0,556.3 983.5,563.2 988.1,564.4 992.7,584.0 996.9,582.9 1002.0,607.2 1005.5,612.3 1006.6,606.0 1009.4,614.1 1012.4,601.4 1014.0,606.0 1017.0,591.4 1020.5,604.9 1021.6,593.3 1024.7,586.4 1027.4,597.9 1029.7,608.3 1032.0,609.5 1034.4,616.4 1037.8,628.0 1041.3,631.4 1044.8,633.1 1048.2,644.2 1052.9,655.7 1056.3,665.4 1059.8,652.3 1063.3,640.7 1066.7,644.2 1069.5,637.2 1073.7,628.0 1077.1,613.0 1081.8,584.0 1085.2,586.4 1087.5,587.5 1089.4,571.3 1092.2,564.4 1094.5,539.0 1096.8,514.7 1099.6,499.7 1102.6,514.7 1104.9,536.6 1107.2,548.2 1113.0,529.7 1116.4,529.7 1119.5,522.8 1122.2,539.0 1125.7,539.0 1128.0,549.4 1130.3,536.0 1133.8,533.2 1136.1,535.5 1139.6,522.1 1141.9,521.6 1144.2,513.5 1147.7,522.8 1150.0,540.1 1151.8,560.9 1155.1,569.0 1156.9,566.1 1159.9,578.8 1163.8,581.7 1167.6,588.5 1170.6,591.4 1173.5,597.3 1176.0,608.9 1178.7,600.2 1182.2,611.3 1184.2,612.8 1186.5,612.8 1188.1,590.5 1191.0,581.7 1193.9,575.5 1195.9,584.6 1198.8,594.4 1202.7,593.4 1205.6,585.6 1207.5,563.2 1210.4,565.2 1213.0,562.3 1214.9,554.9 1217.3,562.3 1219.2,575.9 1222.1,583.7 1226.0,596.3 1229.9,604.7 1232.8,588.5 1234.8,598.8 1238.7,581.7 1241.6,584.6 1244.5,586.6 1246.4,566.1 1249.4,580.2 1251.3,570.0 1254.2,569.1 1259.1,579.4 1261.6,574.9 1263.6,580.2 1266.9,566.1 1269.4,562.6 1271.7,565.8 1276.0,562.3 1277.6,578.8 1281.5,565.2 1285.4,562.3 1288.3,564.2 1291.2,558.4 1293.5,556.8 1295.1,560.7 1299.0,556.0 1301.9,556.4 1305.8,561.9 1308.7,561.3 1309.7,555.4 1313.0,568.1 1316.5,566.5 1320.0,565.8 1322.3,568.5 1324.3,567.7 1326.2,560.7 1329.1,561.9 1331.1,568.1 1333.0,571.6 1335.9,571.0 1337.9,600.2 1340.8,597.3 1343.7,600.8 1345.7,579.8 1347.9,589.9 1351.8,580.2 1356.7,578.8 1360.6,579.8 1364.5,564.2 1368.3,568.5 1372.2,575.5 1375.2,576.3 1378.1,583.3 1381.0,585.6 1383.9,587.2 1387.4,599.2 1388.8,573.9 1391.7,560.3 1396.0,540.9 1398.5,544.7 1401.4,552.1 1404.3,551.0 1406.9,544.7 1408.2,573.9 1411.1,577.8 1415.0,591.1 1418.9,573.9 1421.8,583.7 1423.8,594.9 1426.3,603.5 1428.3,574.9 1430.6,575.9 1433.5,578.8 1436.4,569.1 1438.4,563.2 1439.9,573.5 1442.3,564.2 1444.2,572.4 1447.7,561.3 1450.0,563.2 1452.0,579.8 1454.9,569.1 1458.8,560.3 1461.7,575.9 1463.7,565.8 1466.6,588.5 1469.5,589.1 1471.5,577.4 1474.4,588.5 1479.2,558.4 1482.2,556.4 1485.1,566.1 1489.0,587.2 1493.8,595.3 1498.7,572.0 1501.0,587.5 1503.0,572.0 1505.5,580.7 1508.4,583.7 1510.8,583.7 1513.3,566.1 1515.2,573.0 1517.8,569.6 1520.1,574.3 1522.4,589.5 1525.5,556.8 1526.9,593.4 1529.8,598.2 1532.7,595.3 1536.6,583.7 1538.1,579.6 1542.2,566.6 1544.9,566.6 1547.4,582.7 1551.1,618.3 1554.6,595.1 1558.2,570.3 1560.9,591.0 1564.0,610.7 1566.4,595.1 1569.1,586.9 1570.6,604.4 1573.3,584.8 1576.4,591.0 1580.9,575.5 1582.6,586.9 1585.3,567.2 1589.8,583.8 1592.5,581.7 1595.0,584.8 1599.1,591.0 1603.3,597.2 1607.8,613.3 1609.9,601.8 1614.6,601.8 1619.8,609.6 1624.3,623.7 1627.0,623.7 1631.2,627.2 1633.9,634.0 1636.3,638.2 1639.4,618.3 1642.5,626.2 1646.7,632.8 1648.8,632.8 1651.9,612.7 1654.5,614.8 1657.4,593.5 1664.3,594.1 1668.4,600.3 1670.5,601.3 1672.5,613.3 1676.7,600.9 1679.8,612.7 1682.9,612.7 1685.0,610.7 1688.0,615.8 1690.1,632.4 1693.2,642.3 1696.3,648.9 1699.4,658.8 1701.5,633.4 1706.7,633.4 1708.7,617.5 1711.8,613.8 1714.5,614.8 1716.0,623.7 1719.1,610.7 1723.2,618.3 1726.3,607.5 1728.4,592.0 1730.8,587.9 1732.9,576.9 1735.3,577.6 1739.1,595.1 1742.6,596.2 1746.7,595.1 1751.9,579.6 1757.1,578.2 1759.7,570.7 1765.3,571.4 1770.9,567.8 1774.6,576.5 1778.4,583.8 1781.9,608.6 1783.9,593.1 1789.1,586.5 1791.2,574.5 1794.3,564.5 1798.4,565.2 1801.5,572.4 1803.2,561.0 1806.1,560.0 1807.7,576.9 1810.2,579.6 1812.9,568.3 1815.0,570.3 1818.5,561.0 1822.2,560.4 1824.3,568.3 1828.4,588.9 1833.0,615.8 1837.7,589.3 1841.9,599.3 1844.5,594.7 1847.0,600.3 1850.1,597.2 1852.2,602.4 1854.3,638.2 1857.0,610.7 1862.5,610.7 1865.6,594.7 1868.7,591.0 1870.8,598.2 1873.9,596.2 1876.0,597.2 1878.0,587.9 1881.8,601.3 1885.3,598.9 1888.8,602.4 1892.1,596.8 1895.6,588.9 1897.1,576.1 1900.4,587.9 1902.5,581.7 1906.0,583.8 1908.0,577.6 1910.1,562.0 1912.8,551.3 1914.9,560.0 1917.1,552.7 1920.2,569.3 1924.3,556.9 1928.4,568.3 1931.5,579.6 1933.6,601.3 1936.7,610.0 1939.4,607.5 1940.9,582.3 1942.9,588.9 1945.6,600.3 1948.1,600.9 1952.6,600.9 1956.0,589.3 1958.4,595.1 1960.9,608.6 1963.6,608.0 1966.7,586.9 1970.8,572.4 1972.9,575.5 1975.4,575.5 1977.5,572.0 1980.1,578.6 1982.2,599.3 1984.3,607.1 1987.0,586.5 1989.0,585.2 1991.9,573.4 1994.6,581.7 1996.1,592.0 1999.4,595.6 2003.5,588.9 2004.3,593.0 2006.0,578.6 2008.5,534.7 2011.2,562.0 2014.7,570.3 2016.3,609.6 2020.1,626.2 2022.5,634.4 2026.7,649.3 2031.2,652.0 2033.9,646.8 2036.0,650.6 2039.1,632.4 2040.7,618.9 2042.8,618.9 2045.7,605.1 2048.4,615.8 2050.5,620.0 2051.9,618.9 2057.7,639.6 2059.8,632.4 2063.5,608.6 2068.0,612.7 2071.2,617.9 2075.3,609.6 2078.4,603.4 2082.1,584.8 2084.6,582.7 2089.8,563.1 2093.9,579.0 2096.0,564.1 2099.1,554.8 2102.2,554.2 2104.2,550.7 2108.3,546.5 2110.5,535.5 2113.3,538.2 2114.9,565.5 2118.1,555.7 2122.5,541.4 2125.8,551.3 2130.2,571.0 2132.4,569.9 2134.6,556.8 2137.4,572.7 2140.0,567.7 2142.2,585.9 2144.4,583.0 2146.6,583.0 2149.9,575.4 2152.7,583.0 2157.1,559.6 2159.3,565.5 2161.9,565.5 2164.5,575.4 2166.3,575.0 2168.9,553.5 2171.8,564.0 2174.0,561.8 2179.4,570.6 2183.8,575.4 2187.7,571.4 2189.9,584.1 2192.6,563.3 2196.9,553.9 2200.2,557.9 2202.4,549.5 2207.9,543.6 2212.3,549.1 2214.9,551.3 2217.1,556.8 2219.9,553.0 2222.1,556.8 2227.6,555.7 2229.3,548.0 2232.0,550.2 2234.2,555.7 2239.0,553.5 2241.2,543.6 2245.1,542.1 2248.4,545.8 2251.7,544.3 2253.9,542.5 2257.1,544.3 2259.3,548.7 2260.9,542.5 2263.1,542.5 2268.1,527.7 2270.3,531.6 2272.5,542.5 2275.8,540.4 2280.1,533.8 2284.5,508.6 2287.8,511.9 2291.1,518.5 2292.2,533.8 2295.5,549.1 2299.4,578.7 2304.2,584.1 2308.6,591.8 2311.9,578.0 2311.9,532.05" fill="url(#obg)" clip-path="url(#obclip)"/>
<polygon points="15.1,627.4499999999999 15.1,507.5 19.5,504.2 22.8,510.8 25.6,514.0 28.2,520.7 30.4,517.4 34.8,530.5 37.0,529.0 39.2,542.6 42.5,548.0 45.8,544.8 51.2,552.4 55.6,559.0 58.9,550.2 61.0,550.2 63.3,565.6 67.7,570.0 72.0,567.8 75.3,555.7 78.6,554.6 83.0,576.5 85.2,577.6 89.6,559.0 92.9,570.0 95.0,562.3 98.3,554.6 101.6,579.8 104.9,591.9 109.3,585.3 117.0,596.9 122.4,582.0 125.7,556.8 129.0,572.1 131.2,557.9 134.5,564.5 137.8,579.8 141.1,584.6 144.3,584.2 146.5,566.7 150.9,550.2 156.4,545.9 158.6,554.6 160.8,554.6 161.9,585.3 165.1,585.3 168.4,574.3 170.6,584.2 173.9,589.7 177.2,613.8 180.5,628.0 182.7,643.3 187.1,658.7 191.4,632.4 192.5,621.0 195.8,633.5 200.2,636.8 201.3,643.3 204.6,603.9 206.1,601.7 210.5,593.0 213.8,580.9 217.1,580.9 220.3,600.6 223.6,599.5 225.8,603.9 228.0,598.9 231.3,605.0 233.5,586.4 235.7,585.7 239.0,594.1 242.2,596.2 244.4,597.3 247.7,585.7 252.1,574.3 255.0,579.8 256.5,593.0 259.3,583.8 262.4,611.6 264.6,601.7 268.5,596.2 271.2,605.0 274.7,625.4 277.3,618.2 279.5,623.6 283.9,613.8 287.8,597.8 290.4,610.5 292.6,609.8 295.3,606.1 298.1,612.7 302.5,611.6 306.9,621.9 310.1,617.1 311.9,594.1 315.0,600.6 318.9,594.1 322.2,597.3 326.6,614.9 329.4,606.5 331.6,617.1 334.7,597.3 337.5,608.3 340.8,608.3 343.4,609.4 346.3,589.7 349.6,582.0 351.3,567.1 354.0,579.8 356.1,570.0 361.6,570.6 363.2,565.6 367.1,567.8 370.4,564.9 373.7,575.4 378.1,579.8 381.3,578.1 385.7,585.3 387.9,582.0 393.4,578.7 397.6,572.8 401.6,580.3 404.9,572.1 414.7,573.2 416.9,576.5 423.5,561.2 426.1,541.5 430.0,549.1 433.3,555.7 436.6,555.3 438.4,570.0 441.0,565.6 444.3,574.3 445.8,571.0 449.8,582.0 452.4,579.8 455.2,587.5 457.4,583.1 460.3,602.8 462.9,591.9 465.1,599.5 468.4,584.6 470.6,586.0 475.0,577.6 477.1,578.0 478.2,608.3 479.3,666.3 481.5,664.2 484.4,665.2 487.0,656.5 491.4,653.9 493.6,646.0 496.2,654.3 499.7,645.5 502.3,649.9 505.6,651.0 507.2,654.3 510.0,651.0 512.2,645.5 516.6,625.8 521.0,616.0 525.3,609.4 527.5,610.0 530.8,603.5 533.0,610.5 537.4,610.9 540.7,608.3 542.9,609.4 545.1,596.2 548.3,600.6 550.5,598.4 552.7,603.9 556.7,585.9 559.3,588.6 562.6,599.5 564.8,576.5 567.0,572.1 568.5,580.3 571.3,575.0 574.6,584.6 579.0,570.6 581.6,573.2 583.8,582.0 587.8,570.0 591.6,575.4 594.0,572.0 597.0,560.1 599.9,536.4 603.0,552.4 606.9,549.1 610.2,524.0 612.4,547.0 615.7,555.3 619.6,540.0 622.7,547.0 627.1,569.3 629.9,564.5 632.1,580.9 635.0,583.1 638.7,571.0 642.0,581.6 643.7,549.6 646.3,568.4 648.5,572.0 651.2,589.0 654.0,572.1 656.2,576.5 658.4,586.8 662.8,567.8 666.5,574.3 669.3,568.9 671.5,554.6 674.4,553.5 677.4,572.1 680.9,579.8 685.8,555.7 688.4,571.0 692.3,550.2 694.5,576.5 697.2,566.7 704.4,566.2 707.2,563.4 709.9,568.9 713.2,560.1 717.5,542.6 721.9,535.6 725.2,534.9 729.1,529.4 731.3,542.6 733.5,556.8 736.1,553.5 738.3,555.7 741.0,580.9 743.8,577.2 746.0,584.6 748.2,583.7 750.4,559.0 753.7,568.9 758.1,577.2 760.7,586.4 765.7,581.6 770.1,594.7 772.9,575.4 776.0,591.9 778.9,603.9 781.7,613.1 784.2,604.4 787.0,605.9 791.4,596.1 793.6,599.4 796.9,585.6 799.1,595.0 801.3,579.7 804.6,576.4 807.4,570.3 810.5,580.8 812.7,595.7 816.6,588.4 819.9,580.8 822.1,593.9 825.0,611.4 827.6,615.4 830.9,607.5 833.1,611.9 835.9,599.4 839.6,595.0 842.5,594.3 844.7,600.9 847.3,598.2 850.6,594.3 852.8,601.6 855.0,595.7 857.1,601.6 862.6,597.2 867.0,597.2 869.2,602.7 871.4,612.5 874.7,600.5 878.0,581.9 881.9,582.5 884.1,588.4 886.7,581.2 889.3,586.9 892.2,581.2 894.4,587.3 895.9,573.8 898.8,572.0 901.6,581.9 903.1,584.7 906.0,572.0 907.5,587.3 911.9,581.9 917.4,581.9 919.6,575.9 924.0,578.1 927.2,583.0 929.4,578.6 931.0,515.0 932.3,493.1 934.9,492.7 938.9,512.4 942.6,509.6 944.8,509.6 947.0,529.3 950.7,517.2 954.2,527.1 956.4,526.0 958.6,545.7 961.6,554.0 963.4,543.1 966.7,551.2 968.9,544.6 971.5,551.7 975.4,558.6 980.0,556.3 983.5,563.2 988.1,564.4 992.7,584.0 996.9,582.9 1002.0,607.2 1005.5,612.3 1006.6,606.0 1009.4,614.1 1012.4,601.4 1014.0,606.0 1017.0,591.4 1020.5,604.9 1021.6,593.3 1024.7,586.4 1027.4,597.9 1029.7,608.3 1032.0,609.5 1034.4,616.4 1037.8,628.0 1041.3,631.4 1044.8,633.1 1048.2,644.2 1052.9,655.7 1056.3,665.4 1059.8,652.3 1063.3,640.7 1066.7,644.2 1069.5,637.2 1073.7,628.0 1077.1,613.0 1081.8,584.0 1085.2,586.4 1087.5,587.5 1089.4,571.3 1092.2,564.4 1094.5,539.0 1096.8,514.7 1099.6,499.7 1102.6,514.7 1104.9,536.6 1107.2,548.2 1113.0,529.7 1116.4,529.7 1119.5,522.8 1122.2,539.0 1125.7,539.0 1128.0,549.4 1130.3,536.0 1133.8,533.2 1136.1,535.5 1139.6,522.1 1141.9,521.6 1144.2,513.5 1147.7,522.8 1150.0,540.1 1151.8,560.9 1155.1,569.0 1156.9,566.1 1159.9,578.8 1163.8,581.7 1167.6,588.5 1170.6,591.4 1173.5,597.3 1176.0,608.9 1178.7,600.2 1182.2,611.3 1184.2,612.8 1186.5,612.8 1188.1,590.5 1191.0,581.7 1193.9,575.5 1195.9,584.6 1198.8,594.4 1202.7,593.4 1205.6,585.6 1207.5,563.2 1210.4,565.2 1213.0,562.3 1214.9,554.9 1217.3,562.3 1219.2,575.9 1222.1,583.7 1226.0,596.3 1229.9,604.7 1232.8,588.5 1234.8,598.8 1238.7,581.7 1241.6,584.6 1244.5,586.6 1246.4,566.1 1249.4,580.2 1251.3,570.0 1254.2,569.1 1259.1,579.4 1261.6,574.9 1263.6,580.2 1266.9,566.1 1269.4,562.6 1271.7,565.8 1276.0,562.3 1277.6,578.8 1281.5,565.2 1285.4,562.3 1288.3,564.2 1291.2,558.4 1293.5,556.8 1295.1,560.7 1299.0,556.0 1301.9,556.4 1305.8,561.9 1308.7,561.3 1309.7,555.4 1313.0,568.1 1316.5,566.5 1320.0,565.8 1322.3,568.5 1324.3,567.7 1326.2,560.7 1329.1,561.9 1331.1,568.1 1333.0,571.6 1335.9,571.0 1337.9,600.2 1340.8,597.3 1343.7,600.8 1345.7,579.8 1347.9,589.9 1351.8,580.2 1356.7,578.8 1360.6,579.8 1364.5,564.2 1368.3,568.5 1372.2,575.5 1375.2,576.3 1378.1,583.3 1381.0,585.6 1383.9,587.2 1387.4,599.2 1388.8,573.9 1391.7,560.3 1396.0,540.9 1398.5,544.7 1401.4,552.1 1404.3,551.0 1406.9,544.7 1408.2,573.9 1411.1,577.8 1415.0,591.1 1418.9,573.9 1421.8,583.7 1423.8,594.9 1426.3,603.5 1428.3,574.9 1430.6,575.9 1433.5,578.8 1436.4,569.1 1438.4,563.2 1439.9,573.5 1442.3,564.2 1444.2,572.4 1447.7,561.3 1450.0,563.2 1452.0,579.8 1454.9,569.1 1458.8,560.3 1461.7,575.9 1463.7,565.8 1466.6,588.5 1469.5,589.1 1471.5,577.4 1474.4,588.5 1479.2,558.4 1482.2,556.4 1485.1,566.1 1489.0,587.2 1493.8,595.3 1498.7,572.0 1501.0,587.5 1503.0,572.0 1505.5,580.7 1508.4,583.7 1510.8,583.7 1513.3,566.1 1515.2,573.0 1517.8,569.6 1520.1,574.3 1522.4,589.5 1525.5,556.8 1526.9,593.4 1529.8,598.2 1532.7,595.3 1536.6,583.7 1538.1,579.6 1542.2,566.6 1544.9,566.6 1547.4,582.7 1551.1,618.3 1554.6,595.1 1558.2,570.3 1560.9,591.0 1564.0,610.7 1566.4,595.1 1569.1,586.9 1570.6,604.4 1573.3,584.8 1576.4,591.0 1580.9,575.5 1582.6,586.9 1585.3,567.2 1589.8,583.8 1592.5,581.7 1595.0,584.8 1599.1,591.0 1603.3,597.2 1607.8,613.3 1609.9,601.8 1614.6,601.8 1619.8,609.6 1624.3,623.7 1627.0,623.7 1631.2,627.2 1633.9,634.0 1636.3,638.2 1639.4,618.3 1642.5,626.2 1646.7,632.8 1648.8,632.8 1651.9,612.7 1654.5,614.8 1657.4,593.5 1664.3,594.1 1668.4,600.3 1670.5,601.3 1672.5,613.3 1676.7,600.9 1679.8,612.7 1682.9,612.7 1685.0,610.7 1688.0,615.8 1690.1,632.4 1693.2,642.3 1696.3,648.9 1699.4,658.8 1701.5,633.4 1706.7,633.4 1708.7,617.5 1711.8,613.8 1714.5,614.8 1716.0,623.7 1719.1,610.7 1723.2,618.3 1726.3,607.5 1728.4,592.0 1730.8,587.9 1732.9,576.9 1735.3,577.6 1739.1,595.1 1742.6,596.2 1746.7,595.1 1751.9,579.6 1757.1,578.2 1759.7,570.7 1765.3,571.4 1770.9,567.8 1774.6,576.5 1778.4,583.8 1781.9,608.6 1783.9,593.1 1789.1,586.5 1791.2,574.5 1794.3,564.5 1798.4,565.2 1801.5,572.4 1803.2,561.0 1806.1,560.0 1807.7,576.9 1810.2,579.6 1812.9,568.3 1815.0,570.3 1818.5,561.0 1822.2,560.4 1824.3,568.3 1828.4,588.9 1833.0,615.8 1837.7,589.3 1841.9,599.3 1844.5,594.7 1847.0,600.3 1850.1,597.2 1852.2,602.4 1854.3,638.2 1857.0,610.7 1862.5,610.7 1865.6,594.7 1868.7,591.0 1870.8,598.2 1873.9,596.2 1876.0,597.2 1878.0,587.9 1881.8,601.3 1885.3,598.9 1888.8,602.4 1892.1,596.8 1895.6,588.9 1897.1,576.1 1900.4,587.9 1902.5,581.7 1906.0,583.8 1908.0,577.6 1910.1,562.0 1912.8,551.3 1914.9,560.0 1917.1,552.7 1920.2,569.3 1924.3,556.9 1928.4,568.3 1931.5,579.6 1933.6,601.3 1936.7,610.0 1939.4,607.5 1940.9,582.3 1942.9,588.9 1945.6,600.3 1948.1,600.9 1952.6,600.9 1956.0,589.3 1958.4,595.1 1960.9,608.6 1963.6,608.0 1966.7,586.9 1970.8,572.4 1972.9,575.5 1975.4,575.5 1977.5,572.0 1980.1,578.6 1982.2,599.3 1984.3,607.1 1987.0,586.5 1989.0,585.2 1991.9,573.4 1994.6,581.7 1996.1,592.0 1999.4,595.6 2003.5,588.9 2004.3,593.0 2006.0,578.6 2008.5,534.7 2011.2,562.0 2014.7,570.3 2016.3,609.6 2020.1,626.2 2022.5,634.4 2026.7,649.3 2031.2,652.0 2033.9,646.8 2036.0,650.6 2039.1,632.4 2040.7,618.9 2042.8,618.9 2045.7,605.1 2048.4,615.8 2050.5,620.0 2051.9,618.9 2057.7,639.6 2059.8,632.4 2063.5,608.6 2068.0,612.7 2071.2,617.9 2075.3,609.6 2078.4,603.4 2082.1,584.8 2084.6,582.7 2089.8,563.1 2093.9,579.0 2096.0,564.1 2099.1,554.8 2102.2,554.2 2104.2,550.7 2108.3,546.5 2110.5,535.5 2113.3,538.2 2114.9,565.5 2118.1,555.7 2122.5,541.4 2125.8,551.3 2130.2,571.0 2132.4,569.9 2134.6,556.8 2137.4,572.7 2140.0,567.7 2142.2,585.9 2144.4,583.0 2146.6,583.0 2149.9,575.4 2152.7,583.0 2157.1,559.6 2159.3,565.5 2161.9,565.5 2164.5,575.4 2166.3,575.0 2168.9,553.5 2171.8,564.0 2174.0,561.8 2179.4,570.6 2183.8,575.4 2187.7,571.4 2189.9,584.1 2192.6,563.3 2196.9,553.9 2200.2,557.9 2202.4,549.5 2207.9,543.6 2212.3,549.1 2214.9,551.3 2217.1,556.8 2219.9,553.0 2222.1,556.8 2227.6,555.7 2229.3,548.0 2232.0,550.2 2234.2,555.7 2239.0,553.5 2241.2,543.6 2245.1,542.1 2248.4,545.8 2251.7,544.3 2253.9,542.5 2257.1,544.3 2259.3,548.7 2260.9,542.5 2263.1,542.5 2268.1,527.7 2270.3,531.6 2272.5,542.5 2275.8,540.4 2280.1,533.8 2284.5,508.6 2287.8,511.9 2291.1,518.5 2292.2,533.8 2295.5,549.1 2299.4,578.7 2304.2,584.1 2308.6,591.8 2311.9,578.0 2311.9,627.4499999999999" fill="url(#osg)" clip-path="url(#osclip)"/>
<polyline points="15.1,507.5 19.5,504.2 22.8,510.8 25.6,514.0 28.2,520.7 30.4,517.4 34.8,530.5 37.0,529.0 39.2,542.6 42.5,548.0 45.8,544.8 51.2,552.4 55.6,559.0 58.9,550.2 61.0,550.2 63.3,565.6 67.7,570.0 72.0,567.8 75.3,555.7 78.6,554.6 83.0,576.5 85.2,577.6 89.6,559.0 92.9,570.0 95.0,562.3 98.3,554.6 101.6,579.8 104.9,591.9 109.3,585.3 117.0,596.9 122.4,582.0 125.7,556.8 129.0,572.1 131.2,557.9 134.5,564.5 137.8,579.8 141.1,584.6 144.3,584.2 146.5,566.7 150.9,550.2 156.4,545.9 158.6,554.6 160.8,554.6 161.9,585.3 165.1,585.3 168.4,574.3 170.6,584.2 173.9,589.7 177.2,613.8 180.5,628.0 182.7,643.3 187.1,658.7 191.4,632.4 192.5,621.0 195.8,633.5 200.2,636.8 201.3,643.3 204.6,603.9 206.1,601.7 210.5,593.0 213.8,580.9 217.1,580.9 220.3,600.6 223.6,599.5 225.8,603.9 228.0,598.9 231.3,605.0 233.5,586.4 235.7,585.7 239.0,594.1 242.2,596.2 244.4,597.3 247.7,585.7 252.1,574.3 255.0,579.8 256.5,593.0 259.3,583.8 262.4,611.6 264.6,601.7 268.5,596.2 271.2,605.0 274.7,625.4 277.3,618.2 279.5,623.6 283.9,613.8 287.8,597.8 290.4,610.5 292.6,609.8 295.3,606.1 298.1,612.7 302.5,611.6 306.9,621.9 310.1,617.1 311.9,594.1 315.0,600.6 318.9,594.1 322.2,597.3 326.6,614.9 329.4,606.5 331.6,617.1 334.7,597.3 337.5,608.3 340.8,608.3 343.4,609.4 346.3,589.7 349.6,582.0 351.3,567.1 354.0,579.8 356.1,570.0 361.6,570.6 363.2,565.6 367.1,567.8 370.4,564.9 373.7,575.4 378.1,579.8 381.3,578.1 385.7,585.3 387.9,582.0 393.4,578.7 397.6,572.8 401.6,580.3 404.9,572.1 414.7,573.2 416.9,576.5 423.5,561.2 426.1,541.5 430.0,549.1 433.3,555.7 436.6,555.3 438.4,570.0 441.0,565.6 444.3,574.3 445.8,571.0 449.8,582.0 452.4,579.8 455.2,587.5 457.4,583.1 460.3,602.8 462.9,591.9 465.1,599.5 468.4,584.6 470.6,586.0 475.0,577.6 477.1,578.0 478.2,608.3 479.3,666.3 481.5,664.2 484.4,665.2 487.0,656.5 491.4,653.9 493.6,646.0 496.2,654.3 499.7,645.5 502.3,649.9 505.6,651.0 507.2,654.3 510.0,651.0 512.2,645.5 516.6,625.8 521.0,616.0 525.3,609.4 527.5,610.0 530.8,603.5 533.0,610.5 537.4,610.9 540.7,608.3 542.9,609.4 545.1,596.2 548.3,600.6 550.5,598.4 552.7,603.9 556.7,585.9 559.3,588.6 562.6,599.5 564.8,576.5 567.0,572.1 568.5,580.3 571.3,575.0 574.6,584.6 579.0,570.6 581.6,573.2 583.8,582.0 587.8,570.0 591.6,575.4 594.0,572.0 597.0,560.1 599.9,536.4 603.0,552.4 606.9,549.1 610.2,524.0 612.4,547.0 615.7,555.3 619.6,540.0 622.7,547.0 627.1,569.3 629.9,564.5 632.1,580.9 635.0,583.1 638.7,571.0 642.0,581.6 643.7,549.6 646.3,568.4 648.5,572.0 651.2,589.0 654.0,572.1 656.2,576.5 658.4,586.8 662.8,567.8 666.5,574.3 669.3,568.9 671.5,554.6 674.4,553.5 677.4,572.1 680.9,579.8 685.8,555.7 688.4,571.0 692.3,550.2 694.5,576.5 697.2,566.7 704.4,566.2 707.2,563.4 709.9,568.9 713.2,560.1 717.5,542.6 721.9,535.6 725.2,534.9 729.1,529.4 731.3,542.6 733.5,556.8 736.1,553.5 738.3,555.7 741.0,580.9 743.8,577.2 746.0,584.6 748.2,583.7 750.4,559.0 753.7,568.9 758.1,577.2 760.7,586.4 765.7,581.6 770.1,594.7 772.9,575.4 776.0,591.9 778.9,603.9 781.7,613.1 784.2,604.4 787.0,605.9 791.4,596.1 793.6,599.4 796.9,585.6 799.1,595.0 801.3,579.7 804.6,576.4 807.4,570.3 810.5,580.8 812.7,595.7 816.6,588.4 819.9,580.8 822.1,593.9 825.0,611.4 827.6,615.4 830.9,607.5 833.1,611.9 835.9,599.4 839.6,595.0 842.5,594.3 844.7,600.9 847.3,598.2 850.6,594.3 852.8,601.6 855.0,595.7 857.1,601.6 862.6,597.2 867.0,597.2 869.2,602.7 871.4,612.5 874.7,600.5 878.0,581.9 881.9,582.5 884.1,588.4 886.7,581.2 889.3,586.9 892.2,581.2 894.4,587.3 895.9,573.8 898.8,572.0 901.6,581.9 903.1,584.7 906.0,572.0 907.5,587.3 911.9,581.9 917.4,581.9 919.6,575.9 924.0,578.1 927.2,583.0 929.4,578.6 931.0,515.0 932.3,493.1 934.9,492.7 938.9,512.4 942.6,509.6 944.8,509.6 947.0,529.3 950.7,517.2 954.2,527.1 956.4,526.0 958.6,545.7 961.6,554.0 963.4,543.1 966.7,551.2 968.9,544.6 971.5,551.7 975.4,558.6 980.0,556.3 983.5,563.2 988.1,564.4 992.7,584.0 996.9,582.9 1002.0,607.2 1005.5,612.3 1006.6,606.0 1009.4,614.1 1012.4,601.4 1014.0,606.0 1017.0,591.4 1020.5,604.9 1021.6,593.3 1024.7,586.4 1027.4,597.9 1029.7,608.3 1032.0,609.5 1034.4,616.4 1037.8,628.0 1041.3,631.4 1044.8,633.1 1048.2,644.2 1052.9,655.7 1056.3,665.4 1059.8,652.3 1063.3,640.7 1066.7,644.2 1069.5,637.2 1073.7,628.0 1077.1,613.0 1081.8,584.0 1085.2,586.4 1087.5,587.5 1089.4,571.3 1092.2,564.4 1094.5,539.0 1096.8,514.7 1099.6,499.7 1102.6,514.7 1104.9,536.6 1107.2,548.2 1113.0,529.7 1116.4,529.7 1119.5,522.8 1122.2,539.0 1125.7,539.0 1128.0,549.4 1130.3,536.0 1133.8,533.2 1136.1,535.5 1139.6,522.1 1141.9,521.6 1144.2,513.5 1147.7,522.8 1150.0,540.1 1151.8,560.9 1155.1,569.0 1156.9,566.1 1159.9,578.8 1163.8,581.7 1167.6,588.5 1170.6,591.4 1173.5,597.3 1176.0,608.9 1178.7,600.2 1182.2,611.3 1184.2,612.8 1186.5,612.8 1188.1,590.5 1191.0,581.7 1193.9,575.5 1195.9,584.6 1198.8,594.4 1202.7,593.4 1205.6,585.6 1207.5,563.2 1210.4,565.2 1213.0,562.3 1214.9,554.9 1217.3,562.3 1219.2,575.9 1222.1,583.7 1226.0,596.3 1229.9,604.7 1232.8,588.5 1234.8,598.8 1238.7,581.7 1241.6,584.6 1244.5,586.6 1246.4,566.1 1249.4,580.2 1251.3,570.0 1254.2,569.1 1259.1,579.4 1261.6,574.9 1263.6,580.2 1266.9,566.1 1269.4,562.6 1271.7,565.8 1276.0,562.3 1277.6,578.8 1281.5,565.2 1285.4,562.3 1288.3,564.2 1291.2,558.4 1293.5,556.8 1295.1,560.7 1299.0,556.0 1301.9,556.4 1305.8,561.9 1308.7,561.3 1309.7,555.4 1313.0,568.1 1316.5,566.5 1320.0,565.8 1322.3,568.5 1324.3,567.7 1326.2,560.7 1329.1,561.9 1331.1,568.1 1333.0,571.6 1335.9,571.0 1337.9,600.2 1340.8,597.3 1343.7,600.8 1345.7,579.8 1347.9,589.9 1351.8,580.2 1356.7,578.8 1360.6,579.8 1364.5,564.2 1368.3,568.5 1372.2,575.5 1375.2,576.3 1378.1,583.3 1381.0,585.6 1383.9,587.2 1387.4,599.2 1388.8,573.9 1391.7,560.3 1396.0,540.9 1398.5,544.7 1401.4,552.1 1404.3,551.0 1406.9,544.7 1408.2,573.9 1411.1,577.8 1415.0,591.1 1418.9,573.9 1421.8,583.7 1423.8,594.9 1426.3,603.5 1428.3,574.9 1430.6,575.9 1433.5,578.8 1436.4,569.1 1438.4,563.2 1439.9,573.5 1442.3,564.2 1444.2,572.4 1447.7,561.3 1450.0,563.2 1452.0,579.8 1454.9,569.1 1458.8,560.3 1461.7,575.9 1463.7,565.8 1466.6,588.5 1469.5,589.1 1471.5,577.4 1474.4,588.5 1479.2,558.4 1482.2,556.4 1485.1,566.1 1489.0,587.2 1493.8,595.3 1498.7,572.0 1501.0,587.5 1503.0,572.0 1505.5,580.7 1508.4,583.7 1510.8,583.7 1513.3,566.1 1515.2,573.0 1517.8,569.6 1520.1,574.3 1522.4,589.5 1525.5,556.8 1526.9,593.4 1529.8,598.2 1532.7,595.3 1536.6,583.7 1538.1,579.6 1542.2,566.6 1544.9,566.6 1547.4,582.7 1551.1,618.3 1554.6,595.1 1558.2,570.3 1560.9,591.0 1564.0,610.7 1566.4,595.1 1569.1,586.9 1570.6,604.4 1573.3,584.8 1576.4,591.0 1580.9,575.5 1582.6,586.9 1585.3,567.2 1589.8,583.8 1592.5,581.7 1595.0,584.8 1599.1,591.0 1603.3,597.2 1607.8,613.3 1609.9,601.8 1614.6,601.8 1619.8,609.6 1624.3,623.7 1627.0,623.7 1631.2,627.2 1633.9,634.0 1636.3,638.2 1639.4,618.3 1642.5,626.2 1646.7,632.8 1648.8,632.8 1651.9,612.7 1654.5,614.8 1657.4,593.5 1664.3,594.1 1668.4,600.3 1670.5,601.3 1672.5,613.3 1676.7,600.9 1679.8,612.7 1682.9,612.7 1685.0,610.7 1688.0,615.8 1690.1,632.4 1693.2,642.3 1696.3,648.9 1699.4,658.8 1701.5,633.4 1706.7,633.4 1708.7,617.5 1711.8,613.8 1714.5,614.8 1716.0,623.7 1719.1,610.7 1723.2,618.3 1726.3,607.5 1728.4,592.0 1730.8,587.9 1732.9,576.9 1735.3,577.6 1739.1,595.1 1742.6,596.2 1746.7,595.1 1751.9,579.6 1757.1,578.2 1759.7,570.7 1765.3,571.4 1770.9,567.8 1774.6,576.5 1778.4,583.8 1781.9,608.6 1783.9,593.1 1789.1,586.5 1791.2,574.5 1794.3,564.5 1798.4,565.2 1801.5,572.4 1803.2,561.0 1806.1,560.0 1807.7,576.9 1810.2,579.6 1812.9,568.3 1815.0,570.3 1818.5,561.0 1822.2,560.4 1824.3,568.3 1828.4,588.9 1833.0,615.8 1837.7,589.3 1841.9,599.3 1844.5,594.7 1847.0,600.3 1850.1,597.2 1852.2,602.4 1854.3,638.2 1857.0,610.7 1862.5,610.7 1865.6,594.7 1868.7,591.0 1870.8,598.2 1873.9,596.2 1876.0,597.2 1878.0,587.9 1881.8,601.3 1885.3,598.9 1888.8,602.4 1892.1,596.8 1895.6,588.9 1897.1,576.1 1900.4,587.9 1902.5,581.7 1906.0,583.8 1908.0,577.6 1910.1,562.0 1912.8,551.3 1914.9,560.0 1917.1,552.7 1920.2,569.3 1924.3,556.9 1928.4,568.3 1931.5,579.6 1933.6,601.3 1936.7,610.0 1939.4,607.5 1940.9,582.3 1942.9,588.9 1945.6,600.3 1948.1,600.9 1952.6,600.9 1956.0,589.3 1958.4,595.1 1960.9,608.6 1963.6,608.0 1966.7,586.9 1970.8,572.4 1972.9,575.5 1975.4,575.5 1977.5,572.0 1980.1,578.6 1982.2,599.3 1984.3,607.1 1987.0,586.5 1989.0,585.2 1991.9,573.4 1994.6,581.7 1996.1,592.0 1999.4,595.6 2003.5,588.9 2004.3,593.0 2006.0,578.6 2008.5,534.7 2011.2,562.0 2014.7,570.3 2016.3,609.6 2020.1,626.2 2022.5,634.4 2026.7,649.3 2031.2,652.0 2033.9,646.8 2036.0,650.6 2039.1,632.4 2040.7,618.9 2042.8,618.9 2045.7,605.1 2048.4,615.8 2050.5,620.0 2051.9,618.9 2057.7,639.6 2059.8,632.4 2063.5,608.6 2068.0,612.7 2071.2,617.9 2075.3,609.6 2078.4,603.4 2082.1,584.8 2084.6,582.7 2089.8,563.1 2093.9,579.0 2096.0,564.1 2099.1,554.8 2102.2,554.2 2104.2,550.7 2108.3,546.5 2110.5,535.5 2113.3,538.2 2114.9,565.5 2118.1,555.7 2122.5,541.4 2125.8,551.3 2130.2,571.0 2132.4,569.9 2134.6,556.8 2137.4,572.7 2140.0,567.7 2142.2,585.9 2144.4,583.0 2146.6,583.0 2149.9,575.4 2152.7,583.0 2157.1,559.6 2159.3,565.5 2161.9,565.5 2164.5,575.4 2166.3,575.0 2168.9,553.5 2171.8,564.0 2174.0,561.8 2179.4,570.6 2183.8,575.4 2187.7,571.4 2189.9,584.1 2192.6,563.3 2196.9,553.9 2200.2,557.9 2202.4,549.5 2207.9,543.6 2212.3,549.1 2214.9,551.3 2217.1,556.8 2219.9,553.0 2222.1,556.8 2227.6,555.7 2229.3,548.0 2232.0,550.2 2234.2,555.7 2239.0,553.5 2241.2,543.6 2245.1,542.1 2248.4,545.8 2251.7,544.3 2253.9,542.5 2257.1,544.3 2259.3,548.7 2260.9,542.5 2263.1,542.5 2268.1,527.7 2270.3,531.6 2272.5,542.5 2275.8,540.4 2280.1,533.8 2284.5,508.6 2287.8,511.9 2291.1,518.5 2292.2,533.8 2295.5,549.1 2299.4,578.7 2304.2,584.1 2308.6,591.8 2311.9,578.0" fill="none" stroke="#7e57c2" stroke-width="1.6" stroke-linejoin="round"/>
<path d="M14.0,597.3 C15.1,594.8 18.4,587.5 20.6,582.0 C22.8,576.5 24.9,570.0 27.1,564.5 C29.3,559.0 31.5,553.9 33.7,549.1 C35.9,544.4 38.1,540.0 40.3,536.0 C42.5,532.0 45.3,526.3 46.9,525.0 C48.5,523.7 48.3,525.9 50.1,528.3 C51.9,530.7 55.4,536.2 57.8,539.3 C60.2,542.4 61.9,544.3 64.4,547.0 C67.0,549.7 69.8,553.3 73.1,555.7 C76.4,558.1 80.4,559.5 84.1,561.2 C87.8,563.0 92.1,565.5 95.0,566.2 C97.9,566.9 99.0,564.6 101.6,565.6 C104.2,566.6 107.5,570.1 110.4,572.1 C113.3,574.1 116.2,576.1 119.1,577.6 C122.0,579.1 125.0,580.2 127.9,580.9 C130.8,581.6 133.8,582.1 136.7,581.6 C139.6,581.1 142.5,579.9 145.4,577.6 C148.3,575.3 152.0,570.0 154.2,567.8 C156.4,565.6 156.4,564.5 158.6,564.5 C160.8,564.5 164.4,566.7 167.3,567.8 C170.2,568.9 173.5,568.6 176.1,571.0 C178.7,573.4 180.5,576.9 182.7,582.0 C184.9,587.1 187.0,595.9 189.2,601.7 C191.4,607.6 193.6,612.7 195.8,617.1 C198.0,621.5 200.9,626.0 202.4,628.0 C203.9,630.0 203.8,628.8 205.0,629.1 C206.2,629.4 207.9,631.1 209.4,629.8 C210.9,628.5 212.0,624.4 213.8,621.4 C215.6,618.4 218.1,614.3 220.3,611.6 C222.5,608.9 224.7,607.2 226.9,605.0 C229.1,602.8 231.7,600.3 233.5,598.4 C235.3,596.5 235.3,594.1 237.9,593.4 C240.5,592.7 245.2,594.6 248.8,594.1 C252.5,593.6 256.5,590.7 259.8,590.3 C263.1,589.9 265.6,590.6 268.5,591.9 C271.4,593.1 274.4,595.6 277.3,597.8 C280.2,600.0 283.2,603.1 286.1,605.0 C289.0,606.9 291.5,608.2 294.8,609.4 C298.1,610.6 302.5,612.2 305.8,612.2 C309.1,612.2 311.6,610.2 314.5,609.4 C317.4,608.6 319.7,607.6 323.3,607.2 C326.9,606.8 332.4,607.8 336.4,607.2 C340.4,606.7 343.8,606.1 347.4,603.9 C351.0,601.7 355.0,597.4 358.3,594.1 C361.6,590.8 364.4,587.3 367.1,584.2 C369.9,581.1 372.6,577.3 374.8,575.4 C377.0,573.5 377.5,572.9 380.2,572.8 C382.9,572.7 387.5,574.0 391.2,575.0 C394.9,576.0 398.3,578.5 402.2,578.7 C406.1,579.0 411.1,577.6 414.7,576.5 C418.2,575.4 420.6,573.9 423.5,572.1 C426.4,570.3 429.3,567.1 432.2,565.6 C435.1,564.1 437.7,563.3 441.0,563.0 C444.3,562.7 449.1,563.0 452.0,564.0 C454.9,565.0 456.3,566.4 458.5,568.9 C460.7,571.4 462.9,576.3 465.1,578.7 C467.3,581.1 469.7,582.0 471.7,583.1 C473.7,584.2 475.3,582.6 477.1,585.3 C478.9,588.0 480.6,594.6 482.6,599.5 C484.6,604.4 486.6,609.8 489.2,614.9 C491.8,620.0 495.4,625.5 498.0,630.2 C500.6,634.9 502.3,639.2 504.5,643.3 C506.7,647.4 508.9,654.0 511.1,654.7 C513.3,655.4 515.2,650.5 517.7,647.7 C520.2,644.9 523.5,641.4 526.4,637.9 C529.3,634.4 532.3,630.9 535.2,626.9 C538.1,622.9 541.1,617.3 544.0,613.8 C546.9,610.3 549.8,608.1 552.7,606.1 C555.6,604.1 558.6,603.7 561.5,601.7 C564.4,599.7 567.3,596.7 570.2,594.1 C573.1,591.5 576.1,588.6 579.0,586.4 C581.9,584.2 585.3,582.5 587.8,580.9 C590.3,579.2 591.3,578.3 593.8,576.5 C596.2,574.7 599.6,572.7 602.5,570.0 C605.4,567.3 608.4,562.9 611.3,560.1 C614.2,557.4 617.1,555.1 620.0,553.5 C622.9,551.9 625.9,549.7 628.8,550.2 C631.7,550.8 634.7,554.6 637.6,556.8 C640.5,559.0 643.4,561.0 646.3,563.4 C649.2,565.8 652.5,569.1 655.1,571.0 C657.7,572.9 659.2,574.6 661.7,575.0 C664.2,575.4 667.5,573.9 670.4,573.2 C673.3,572.5 676.3,571.1 679.2,570.6 C682.1,570.1 685.1,570.8 688.0,570.0 C690.9,569.2 693.4,566.3 696.7,565.6 C700.0,564.9 704.4,566.2 707.7,565.6 C711.0,565.0 713.5,563.9 716.4,562.3 C719.3,560.6 721.9,557.9 725.2,555.7 C728.5,553.5 732.8,549.8 736.1,549.1 C739.4,548.4 742.0,549.8 744.9,551.3 C747.8,552.8 750.8,555.0 753.7,557.9 C756.6,560.8 759.5,565.4 762.4,568.9 C765.3,572.4 768.6,576.5 771.2,578.7 C773.8,580.9 775.5,580.6 777.8,582.0 C780.1,583.4 782.9,585.0 785.0,587.0 C787.1,589.0 787.9,592.6 790.3,594.3 C792.6,596.0 796.2,597.2 799.1,597.2 C802.0,597.2 805.2,595.4 807.9,594.3 C810.6,593.2 813.1,592.0 815.5,590.6 C817.9,589.2 819.7,586.2 822.1,586.2 C824.5,586.2 826.7,589.0 829.8,590.6 C832.9,592.2 837.4,594.5 840.7,596.1 C844.0,597.7 846.9,598.9 849.5,600.0 C852.1,601.1 853.9,602.8 856.1,602.7 C858.3,602.6 860.4,600.3 862.6,599.4 C864.8,598.5 867.2,597.1 869.2,597.2 C871.2,597.3 872.5,600.0 874.7,600.0 C876.9,600.0 879.2,598.6 882.3,597.2 C885.4,595.8 890.0,593.5 893.3,591.7 C896.6,589.9 899.5,587.8 902.1,586.2 C904.7,584.6 906.1,582.8 908.6,581.9 C911.1,581.0 914.5,581.2 917.4,580.8 C920.3,580.4 924.1,579.9 926.1,579.7 C928.1,579.5 927.6,582.8 929.4,579.7 C931.2,576.6 934.0,567.8 937.1,561.0 C940.2,554.2 944.8,544.4 948.1,538.7 C951.4,533.1 954.3,530.1 956.8,527.1 C959.3,524.1 961.0,520.1 963.0,520.5 C965.0,520.9 967.0,526.8 968.9,529.3 C970.8,531.8 971.8,532.5 974.2,535.5 C976.6,538.5 980.4,543.6 983.5,547.1 C986.6,550.6 990.0,553.2 992.7,556.3 C995.4,559.4 997.4,561.6 999.7,565.5 C1002.0,569.4 1003.9,575.0 1006.6,579.4 C1009.3,583.8 1012.8,588.8 1015.9,592.1 C1019.0,595.4 1022.0,597.2 1025.1,599.1 C1028.2,601.0 1031.3,602.0 1034.4,603.7 C1037.5,605.4 1040.9,607.2 1043.6,609.5 C1046.3,611.8 1048.2,613.8 1050.5,617.6 C1052.8,621.5 1055.2,628.5 1057.5,632.6 C1059.8,636.7 1062.1,640.2 1064.4,642.3 C1066.7,644.4 1069.1,645.6 1071.4,645.3 C1073.7,645.0 1076.0,643.6 1078.3,640.7 C1080.6,637.8 1082.9,633.6 1085.2,628.0 C1087.5,622.4 1089.9,615.7 1092.2,607.2 C1094.5,598.7 1096.8,585.6 1099.1,577.1 C1101.4,568.6 1103.7,562.1 1106.0,556.3 C1108.3,550.4 1110.7,545.9 1113.0,542.0 C1115.3,538.1 1117.6,534.9 1119.9,532.7 C1122.2,530.5 1124.1,528.5 1126.8,529.0 C1129.5,529.5 1133.4,534.9 1136.1,535.5 C1138.8,536.1 1140.7,533.6 1143.0,532.7 C1145.3,531.9 1147.7,529.5 1150.0,530.4 C1152.3,531.2 1154.8,535.4 1156.9,537.8 C1159.0,540.2 1160.7,541.8 1162.8,544.7 C1164.9,547.6 1167.6,551.7 1169.6,555.4 C1171.5,559.1 1172.7,562.7 1174.5,567.1 C1176.3,571.5 1178.4,577.5 1180.3,581.7 C1182.2,585.9 1183.8,590.2 1186.1,592.4 C1188.4,594.6 1191.3,594.2 1193.9,594.9 C1196.5,595.5 1199.6,596.2 1201.7,596.3 C1203.8,596.4 1204.6,596.6 1206.6,595.3 C1208.5,594.0 1211.6,590.8 1213.4,588.5 C1215.2,586.2 1216.0,583.5 1217.3,581.7 C1218.6,579.9 1219.8,578.3 1221.1,577.8 C1222.4,577.3 1223.5,578.2 1225.0,578.8 C1226.5,579.4 1227.6,580.9 1229.9,581.3 C1232.2,581.7 1236.3,580.9 1238.7,581.3 C1241.1,581.7 1242.6,582.8 1244.5,583.7 C1246.4,584.6 1248.0,586.7 1250.3,586.6 C1252.6,586.5 1255.2,584.9 1258.1,583.3 C1261.0,581.7 1264.5,578.7 1267.8,576.8 C1271.0,574.9 1274.3,573.3 1277.6,572.0 C1280.8,570.7 1284.4,570.2 1287.3,569.1 C1290.2,568.0 1292.5,566.3 1295.1,565.2 C1297.7,564.1 1300.0,563.0 1302.9,562.3 C1305.8,561.5 1309.4,560.9 1312.6,560.7 C1315.8,560.5 1319.4,561.0 1322.3,561.3 C1325.2,561.6 1327.7,561.6 1330.1,562.3 C1332.5,562.9 1334.6,563.4 1336.9,565.2 C1339.2,567.0 1341.6,571.1 1343.7,573.0 C1345.8,574.9 1347.6,575.8 1349.5,576.8 C1351.4,577.8 1352.8,577.9 1355.0,578.8 C1357.2,579.7 1360.0,581.8 1362.5,582.1 C1365.0,582.4 1367.9,581.5 1370.3,580.7 C1372.7,579.9 1374.8,577.9 1377.1,577.4 C1379.4,576.9 1382.0,577.6 1383.9,577.8 C1385.9,578.0 1386.8,579.6 1388.8,578.8 C1390.8,578.0 1393.2,574.6 1395.6,573.0 C1398.0,571.4 1401.1,570.2 1403.4,569.1 C1405.7,568.0 1407.1,566.6 1409.2,566.1 C1411.3,565.6 1414.0,566.4 1416.0,566.1 C1418.0,565.8 1419.1,563.7 1420.9,564.2 C1422.7,564.7 1424.8,567.2 1426.7,569.1 C1428.6,571.0 1430.4,573.7 1432.5,575.5 C1434.6,577.3 1437.1,579.4 1439.4,579.8 C1441.7,580.2 1444.1,578.6 1446.2,577.8 C1448.3,577.0 1449.7,576.3 1452.0,574.9 C1454.3,573.5 1457.4,569.9 1459.8,569.1 C1462.2,568.3 1464.0,569.3 1466.6,570.0 C1469.2,570.7 1472.7,573.2 1475.4,573.5 C1478.2,573.8 1480.8,572.1 1483.1,572.0 C1485.4,571.9 1486.7,571.9 1489.0,573.0 C1491.3,574.1 1493.9,578.0 1496.8,578.8 C1499.7,579.6 1503.6,577.8 1506.5,577.8 C1509.4,577.8 1511.7,578.4 1514.3,578.8 C1516.9,579.2 1519.7,580.2 1522.0,580.2 C1524.3,580.2 1525.6,578.7 1527.9,578.8 C1530.2,578.9 1533.1,580.7 1535.7,580.7 C1538.3,580.7 1540.7,577.8 1543.3,578.6 C1545.9,579.5 1548.8,584.2 1551.5,585.8 C1554.2,587.3 1557.0,587.4 1559.8,587.9 C1562.6,588.4 1565.3,588.2 1568.1,588.9 C1570.9,589.6 1574.3,591.1 1576.4,592.0 C1578.5,592.9 1578.6,595.0 1580.5,594.1 C1582.4,593.2 1585.3,587.9 1587.7,586.9 C1590.1,585.9 1592.8,588.1 1595.0,587.9 C1597.2,587.7 1598.8,585.6 1601.2,585.8 C1603.6,586.0 1606.8,587.3 1609.5,588.9 C1612.2,590.5 1615.0,592.5 1617.7,595.1 C1620.5,597.7 1622.9,601.0 1626.0,604.4 C1629.1,607.8 1633.2,612.7 1636.3,615.8 C1639.4,618.9 1641.8,621.3 1644.6,623.1 C1647.4,624.9 1650.5,626.5 1652.9,626.6 C1655.3,626.7 1656.7,625.7 1659.1,623.7 C1661.5,621.7 1664.7,617.3 1667.4,614.8 C1670.2,612.3 1672.5,610.3 1675.6,608.6 C1678.7,606.9 1682.9,603.7 1686.0,604.4 C1689.1,605.1 1691.9,609.6 1694.3,612.7 C1696.7,615.8 1698.1,620.5 1700.5,623.1 C1702.9,625.8 1706.0,627.4 1708.7,628.6 C1711.5,629.8 1714.2,630.4 1717.0,630.3 C1719.8,630.2 1723.3,630.1 1725.3,628.2 C1727.3,626.3 1727.8,621.8 1729.1,618.9 C1730.4,616.0 1731.6,613.3 1733.3,610.7 C1735.0,608.1 1737.1,605.6 1739.5,603.4 C1741.9,601.1 1744.7,600.1 1747.8,597.2 C1750.9,594.3 1755.0,588.3 1758.1,585.8 C1761.2,583.3 1763.3,583.7 1766.4,582.3 C1769.5,580.9 1773.3,578.0 1776.7,577.6 C1780.1,577.2 1783.5,580.0 1787.0,580.2 C1790.5,580.4 1794.0,579.2 1797.4,578.6 C1800.9,578.0 1805.1,577.2 1807.7,576.9 C1810.3,576.5 1811.2,577.4 1812.9,576.5 C1814.6,575.6 1816.3,573.0 1818.1,571.4 C1819.9,569.8 1821.8,566.4 1823.9,566.6 C1826.0,566.8 1828.2,570.0 1830.5,572.4 C1832.8,574.8 1835.3,578.5 1837.7,580.7 C1840.1,582.9 1842.8,584.1 1845.0,585.8 C1847.2,587.5 1849.1,588.5 1851.2,591.0 C1853.3,593.5 1855.3,598.5 1857.4,600.9 C1859.5,603.3 1861.5,605.1 1863.6,605.5 C1865.7,605.9 1867.4,603.2 1869.8,603.0 C1872.2,602.8 1875.2,604.5 1878.0,604.4 C1880.8,604.3 1883.5,603.6 1886.3,602.4 C1889.1,601.2 1892.2,598.6 1894.6,597.2 C1897.0,595.8 1898.7,595.1 1900.8,594.1 C1902.9,593.1 1904.6,593.1 1907.0,591.0 C1909.4,588.9 1912.9,584.2 1915.3,581.7 C1917.7,579.2 1918.8,578.3 1921.2,576.1 C1923.6,573.9 1926.7,568.8 1929.5,568.3 C1932.3,567.8 1935.2,571.8 1937.8,573.4 C1940.4,575.0 1942.6,575.4 1945.0,577.6 C1947.4,579.9 1950.0,584.5 1952.2,586.9 C1954.4,589.3 1956.3,589.9 1958.4,592.0 C1960.5,594.1 1962.2,599.4 1964.6,599.7 C1967.0,600.1 1970.1,595.6 1972.9,594.1 C1975.7,592.6 1978.4,591.6 1981.2,590.6 C1984.0,589.6 1986.8,588.9 1989.5,587.9 C1992.2,586.9 1995.0,584.8 1997.7,584.4 C2000.5,584.0 2003.9,586.1 2006.0,585.8 C2008.1,585.5 2008.4,583.3 2010.1,582.7 C2011.8,582.1 2014.6,581.9 2016.3,582.3 C2018.0,582.6 2018.4,581.6 2020.5,584.8 C2022.6,588.0 2025.7,595.8 2028.8,601.3 C2031.9,606.8 2036.0,613.0 2039.1,617.9 C2042.2,622.8 2044.7,628.5 2047.4,630.7 C2050.2,632.9 2052.8,632.1 2055.6,631.3 C2058.3,630.5 2061.1,627.7 2063.9,625.7 C2066.7,623.7 2069.4,621.0 2072.2,619.5 C2075.0,618.0 2077.4,620.1 2080.5,616.9 C2083.6,613.7 2087.4,605.8 2090.8,600.3 C2094.2,594.8 2098.0,589.1 2101.1,583.8 C2104.2,578.5 2106.9,572.8 2109.4,568.5 C2111.9,564.2 2113.0,560.8 2115.9,557.9 C2118.8,555.0 2123.2,551.6 2126.9,550.9 C2130.6,550.2 2134.5,551.2 2137.8,553.5 C2141.1,555.8 2143.7,561.5 2146.6,564.4 C2149.5,567.3 2152.5,569.5 2155.4,571.0 C2158.3,572.5 2160.8,573.2 2164.1,573.2 C2167.4,573.2 2171.8,571.8 2175.1,571.0 C2178.4,570.2 2180.9,568.7 2183.8,568.4 C2186.7,568.1 2189.7,569.8 2192.6,569.2 C2195.5,568.6 2198.0,566.4 2201.3,564.9 C2204.6,563.4 2208.7,562.0 2212.3,560.1 C2216.0,558.2 2219.2,554.9 2223.2,553.5 C2227.2,552.1 2231.9,552.4 2236.3,551.7 C2240.7,551.0 2245.1,550.3 2249.5,549.1 C2253.9,547.9 2258.6,546.1 2262.6,544.7 C2266.6,543.3 2270.3,541.8 2273.6,540.8 C2276.9,539.8 2279.8,540.0 2282.3,538.6 C2284.9,537.2 2287.1,534.1 2288.9,532.7 C2290.7,531.4 2291.9,530.3 2293.3,530.5 C2294.8,530.7 2295.8,531.6 2297.6,533.8 C2299.4,536.0 2302.0,540.5 2304.2,543.6 C2306.4,546.7 2309.7,550.9 2310.8,552.4" fill="none" stroke="#fdd835" stroke-width="1.5" stroke-linejoin="round"/>
</g>
<text x="242.8" y="69.8" textLength="54.3" lengthAdjust="spacingAndGlyphs" style="fill:#2962ff;stroke:#2962ff;stroke-width:0.35px;">329.58</text>
<text x="307.4" y="69.8" textLength="118.8" lengthAdjust="spacingAndGlyphs" style="fill:#2962ff;stroke:#2962ff;stroke-width:0.35px;">+0.31 (+0.09%)</text>
<text x="160.6" y="95.8" textLength="53.1" lengthAdjust="spacingAndGlyphs" style="fill:#00bcd4;stroke:#00bcd4;stroke-width:0.35px;">329.95</text>
<text x="170.9" y="121.8" textLength="53.6" lengthAdjust="spacingAndGlyphs" style="fill:#f23645;stroke:#f23645;stroke-width:0.35px;">327.34</text>
<text x="214.7" y="147.4" textLength="53.9" lengthAdjust="spacingAndGlyphs" style="fill:#2962ff;stroke:#2962ff;stroke-width:0.35px;">329.95</text>
<text x="278.8" y="147.4" textLength="53.9" lengthAdjust="spacingAndGlyphs" style="fill:#f23645;stroke:#f23645;stroke-width:0.35px;">331.06</text>
<text x="343.5" y="147.4" textLength="53.9" lengthAdjust="spacingAndGlyphs" style="fill:#089981;stroke:#089981;stroke-width:0.35px;">328.83</text>
<text x="151.6" y="499.8" textLength="45.5" lengthAdjust="spacingAndGlyphs" style="fill:#7e57c2;stroke:#7e57c2;stroke-width:0.35px;">50.45</text>
<text x="207.6" y="499.8" textLength="43.3" lengthAdjust="spacingAndGlyphs" style="fill:#fdd835;stroke:#fdd835;stroke-width:0.35px;">61.31</text>
<text x="13.8" y="29" textLength="100.0" lengthAdjust="spacingAndGlyphs" style="fill:#131722;font-size:18px;stroke:#131722;stroke-width:0.35px;">mccallisaiah</text>
<text x="118.6" y="29" textLength="63.4" lengthAdjust="spacingAndGlyphs" style="fill:#131722;font-size:18px;stroke:#131722;stroke-width:0.35px;">created</text>
<text x="187.2" y="29" textLength="36.4" lengthAdjust="spacingAndGlyphs" style="fill:#131722;font-size:18px;stroke:#131722;stroke-width:0.35px;">with</text>
<text x="227.4" y="29" textLength="142.6" lengthAdjust="spacingAndGlyphs" style="fill:#131722;font-size:18px;stroke:#131722;stroke-width:0.35px;">TradingView.com,</text>
<text x="375.2" y="29" textLength="29.8" lengthAdjust="spacingAndGlyphs" style="fill:#131722;font-size:18px;stroke:#131722;stroke-width:0.35px;">Sep</text>
<text x="408.8" y="29" textLength="26.8" lengthAdjust="spacingAndGlyphs" style="fill:#131722;font-size:18px;stroke:#131722;stroke-width:0.35px;">05,</text>
<text x="440.2" y="29" textLength="37.8" lengthAdjust="spacingAndGlyphs" style="fill:#131722;font-size:18px;stroke:#131722;stroke-width:0.35px;">2025</text>
<text x="483.6" y="29" textLength="45.2" lengthAdjust="spacingAndGlyphs" style="fill:#131722;font-size:18px;stroke:#131722;stroke-width:0.35px;">04:43</text>
<text x="533.0" y="29" textLength="33.4" lengthAdjust="spacingAndGlyphs" style="fill:#131722;font-size:18px;stroke:#131722;stroke-width:0.35px;">UTC</text>
<text x="27.0" y="69.8" textLength="66.4" lengthAdjust="spacingAndGlyphs" style="fill:#131722;stroke:#131722;stroke-width:0.35px;">Strategy</text>
<text x="98.2" y="69.8" textLength="25.8" lengthAdjust="spacingAndGlyphs" style="fill:#131722;stroke:#131722;stroke-width:0.35px;">Inc</text>
<text x="129.2" y="69.8" style="fill:#131722;stroke:#131722;stroke-width:0.35px;">·</text>
<text x="140.65" y="69.8" style="fill:#131722;stroke:#131722;stroke-width:0.35px;">5</text>
<text x="155.25" y="69.8" style="fill:#131722;stroke:#131722;stroke-width:0.35px;">·</text>
<text x="167.0" y="69.8" textLength="67.2" lengthAdjust="spacingAndGlyphs" style="fill:#131722;stroke:#131722;stroke-width:0.35px;">NASDAQ</text>
<text x="25.8" y="95.8" textLength="32.6" lengthAdjust="spacingAndGlyphs" style="fill:#131722;stroke:#131722;stroke-width:0.35px;">SMA</text>
<text x="64.6" y="95.8" textLength="32.0" lengthAdjust="spacingAndGlyphs" style="fill:#131722;stroke:#131722;stroke-width:0.35px;">(20,</text>
<text x="100.8" y="95.8" textLength="48.2" lengthAdjust="spacingAndGlyphs" style="fill:#131722;stroke:#131722;stroke-width:0.35px;">close)</text>
<text x="26.8" y="121.8" textLength="32.6" lengthAdjust="spacingAndGlyphs" style="fill:#131722;stroke:#131722;stroke-width:0.35px;">SMA</text>
<text x="64.6" y="121.8" textLength="41.6" lengthAdjust="spacingAndGlyphs" style="fill:#131722;stroke:#131722;stroke-width:0.35px;">(200,</text>
<text x="110.4" y="121.8" textLength="48.4" lengthAdjust="spacingAndGlyphs" style="fill:#131722;stroke:#131722;stroke-width:0.35px;">close)</text>
<text x="26.4" y="147.4" textLength="21.6" lengthAdjust="spacingAndGlyphs" style="fill:#131722;stroke:#131722;stroke-width:0.35px;">BB</text>
<text x="52.8" y="147.4" textLength="32.0" lengthAdjust="spacingAndGlyphs" style="fill:#131722;stroke:#131722;stroke-width:0.35px;">(20,</text>
<text x="90.6" y="147.4" textLength="37.4" lengthAdjust="spacingAndGlyphs" style="fill:#131722;stroke:#131722;stroke-width:0.35px;">SMA,</text>
<text x="135.0" y="147.4" textLength="42.2" lengthAdjust="spacingAndGlyphs" style="fill:#131722;stroke:#131722;stroke-width:0.35px;">close,</text>
<text x="184.4" y="147.4" textLength="17.6" lengthAdjust="spacingAndGlyphs" style="fill:#131722;stroke:#131722;stroke-width:0.35px;">2)</text>
<text x="26.6" y="499.8" textLength="24.8" lengthAdjust="spacingAndGlyphs" style="fill:#131722;stroke:#131722;stroke-width:0.35px;">RSI</text>
<text x="56.0" y="499.8" textLength="33.0" lengthAdjust="spacingAndGlyphs" style="fill:#131722;stroke:#131722;stroke-width:0.35px;">(14,</text>
<text x="93.2" y="499.8" textLength="48.4" lengthAdjust="spacingAndGlyphs" style="fill:#131722;stroke:#131722;stroke-width:0.35px;">close)</text>
<rect x="14.9" y="40.8" width="2403.1" height="691.2" fill="none" stroke="#eeeff1" stroke-width="1.8"/>
<line x1="15" y1="470.5" x2="2417" y2="470.5" stroke="#e0e3eb" stroke-width="1"/>
<rect x="2343" y="47.5" width="67.5" height="37" rx="6" fill="#fff" stroke="#e0e3eb"/>
<text x="2356.5" y="71.6" textLength="31.9" lengthAdjust="spacingAndGlyphs" style="fill:#131722;stroke:#131722;stroke-width:0.35px;">USD</text>
<text x="2351.5" y="104.1" textLength="53.3" lengthAdjust="spacingAndGlyphs" style="fill:#131722;stroke:#131722;stroke-width:0.35px;">350.00</text>
<text x="2351.5" y="154.8" textLength="53.3" lengthAdjust="spacingAndGlyphs" style="fill:#131722;stroke:#131722;stroke-width:0.35px;">345.00</text>
<text x="2351.5" y="205.4" textLength="53.3" lengthAdjust="spacingAndGlyphs" style="fill:#131722;stroke:#131722;stroke-width:0.35px;">340.00</text>
<text x="2351.5" y="256.1" textLength="53.3" lengthAdjust="spacingAndGlyphs" style="fill:#131722;stroke:#131722;stroke-width:0.35px;">335.00</text>
<text x="2351.5" y="357.4" textLength="53.3" lengthAdjust="spacingAndGlyphs" style="fill:#131722;stroke:#131722;stroke-width:0.35px;">325.00</text>
<text x="2351.5" y="408.0" textLength="53.3" lengthAdjust="spacingAndGlyphs" style="fill:#131722;stroke:#131722;stroke-width:0.35px;">320.00</text>
<text x="2351.5" y="458.7" textLength="53.3" lengthAdjust="spacingAndGlyphs" style="fill:#131722;stroke:#131722;stroke-width:0.35px;">315.00</text>
<text x="2350" y="514.3" textLength="45.3" lengthAdjust="spacingAndGlyphs" style="fill:#131722;stroke:#131722;stroke-width:0.35px;">80.00</text>
<text x="2350" y="562.0" textLength="45.3" lengthAdjust="spacingAndGlyphs" style="fill:#131722;stroke:#131722;stroke-width:0.35px;">60.00</text>
<text x="2350" y="609.7" textLength="45.3" lengthAdjust="spacingAndGlyphs" style="fill:#131722;stroke:#131722;stroke-width:0.35px;">40.00</text>
<text x="2350" y="657.4" textLength="45.3" lengthAdjust="spacingAndGlyphs" style="fill:#131722;stroke:#131722;stroke-width:0.35px;">20.00</text>
<path d="M2284.2,292.2 H2336.9 V318.6 H2284.2 Q2281.2,318.6 2281.2,315.6 V295.2 Q2281.2,292.2 2284.2,292.2 Z" fill="#2962ff"/>
<path d="M2338.1,292.2 H2408.7 Q2411.7,292.2 2411.7,295.2 V315.6 Q2411.7,318.6 2408.7,318.6 H2338.1 Z" fill="#2962ff"/>
<text x="2288.5" y="311.9" textLength="43" lengthAdjust="spacingAndGlyphs" style="fill:#ffffff;stroke:#ffffff;stroke-width:0.6px;">MSTR</text>
<text x="2351.5" y="311.9" textLength="53" lengthAdjust="spacingAndGlyphs" style="fill:#ffffff;stroke:#ffffff;stroke-width:0.6px;">329.58</text>
<circle cx="2312.5" cy="450.3" r="15.6" fill="#fff"/>
<circle cx="2312.5" cy="450.3" r="14.6" fill="#fff" stroke="#9c27b0" stroke-width="2"/>
<polyline points="2317.6,442.9 2306.6,451.2 2318.6,449.3 2307.5,457.7" fill="none" stroke="#9c27b0" stroke-width="2.2" stroke-linejoin="miter" stroke-miterlimit="2.2"/>
<g clip-path="url(#timeclip)">
<text x="14.2" y="718.2" textLength="20.7" lengthAdjust="spacingAndGlyphs" text-anchor="middle" style="fill:#131722;stroke:#131722;stroke-width:0.35px;">28</text>
<text x="131.2" y="718.2" textLength="44.9" lengthAdjust="spacingAndGlyphs" text-anchor="middle" style="fill:#131722;stroke:#131722;stroke-width:0.35px;">12:00</text>
<text x="218.4" y="718.2" textLength="44.9" lengthAdjust="spacingAndGlyphs" text-anchor="middle" style="fill:#131722;stroke:#131722;stroke-width:0.35px;">15:00</text>
<text x="305.6" y="718.2" textLength="44.9" lengthAdjust="spacingAndGlyphs" text-anchor="middle" style="fill:#131722;stroke:#131722;stroke-width:0.35px;">18:00</text>
<text x="392.5" y="718.2" textLength="44.9" lengthAdjust="spacingAndGlyphs" text-anchor="middle" style="fill:#131722;stroke:#131722;stroke-width:0.35px;">21:00</text>
<text x="479.5" y="718.2" textLength="20.7" lengthAdjust="spacingAndGlyphs" text-anchor="middle" style="fill:#131722;stroke:#131722;stroke-width:0.35px;">29</text>
<text x="595.3" y="718.2" textLength="44.9" lengthAdjust="spacingAndGlyphs" text-anchor="middle" style="fill:#131722;stroke:#131722;stroke-width:0.35px;">12:00</text>
<text x="682.9" y="718.2" textLength="44.9" lengthAdjust="spacingAndGlyphs" text-anchor="middle" style="fill:#131722;stroke:#131722;stroke-width:0.35px;">15:00</text>
<text x="770" y="718.2" textLength="44.9" lengthAdjust="spacingAndGlyphs" text-anchor="middle" style="fill:#131722;stroke:#131722;stroke-width:0.35px;">18:00</text>
<text x="849.8" y="718.2" textLength="44.9" lengthAdjust="spacingAndGlyphs" text-anchor="middle" style="fill:#131722;stroke:#131722;stroke-width:0.35px;">20:45</text>
<text x="932" y="718.2" textLength="30.6" lengthAdjust="spacingAndGlyphs" text-anchor="middle" style="fill:#131722;stroke:#131722;stroke-width:0.35px;">Sep</text>
<text x="1048.5" y="718.2" textLength="44.9" lengthAdjust="spacingAndGlyphs" text-anchor="middle" style="fill:#131722;stroke:#131722;stroke-width:0.35px;">12:00</text>
<text x="1135.7" y="718.2" textLength="44.9" lengthAdjust="spacingAndGlyphs" text-anchor="middle" style="fill:#131722;stroke:#131722;stroke-width:0.35px;">15:00</text>
<text x="1223" y="718.2" textLength="44.9" lengthAdjust="spacingAndGlyphs" text-anchor="middle" style="fill:#131722;stroke:#131722;stroke-width:0.35px;">18:00</text>
<text x="1309.5" y="718.2" textLength="44.9" lengthAdjust="spacingAndGlyphs" text-anchor="middle" style="fill:#131722;stroke:#131722;stroke-width:0.35px;">21:00</text>
<text x="1392" y="718.2" text-anchor="middle" style="fill:#131722;stroke:#131722;stroke-width:0.35px;">3</text>
<text x="1508.4" y="718.2" textLength="44.9" lengthAdjust="spacingAndGlyphs" text-anchor="middle" style="fill:#131722;stroke:#131722;stroke-width:0.35px;">12:00</text>
<text x="1595.5" y="718.2" textLength="44.9" lengthAdjust="spacingAndGlyphs" text-anchor="middle" style="fill:#131722;stroke:#131722;stroke-width:0.35px;">15:00</text>
<text x="1682.4" y="718.2" textLength="44.9" lengthAdjust="spacingAndGlyphs" text-anchor="middle" style="fill:#131722;stroke:#131722;stroke-width:0.35px;">18:00</text>
<text x="1769" y="718.2" textLength="44.9" lengthAdjust="spacingAndGlyphs" text-anchor="middle" style="fill:#131722;stroke:#131722;stroke-width:0.35px;">21:05</text>
<text x="1854.4" y="718.2" text-anchor="middle" style="fill:#131722;stroke:#131722;stroke-width:0.35px;">4</text>
<text x="1965.6" y="718.2" textLength="44.9" lengthAdjust="spacingAndGlyphs" text-anchor="middle" style="fill:#131722;stroke:#131722;stroke-width:0.35px;">12:00</text>
<text x="2052.8" y="718.2" textLength="44.9" lengthAdjust="spacingAndGlyphs" text-anchor="middle" style="fill:#131722;stroke:#131722;stroke-width:0.35px;">15:00</text>
<text x="2139.7" y="718.2" textLength="44.9" lengthAdjust="spacingAndGlyphs" text-anchor="middle" style="fill:#131722;stroke:#131722;stroke-width:0.35px;">18:00</text>
<text x="2226.7" y="718.2" textLength="44.9" lengthAdjust="spacingAndGlyphs" text-anchor="middle" style="fill:#131722;stroke:#131722;stroke-width:0.35px;">21:00</text>
<text x="2313.5" y="718.2" text-anchor="middle" style="fill:#131722;stroke:#131722;stroke-width:0.35px;">5</text>
</g>
<g fill="#131722">
<path d="M17.9,765 H35.8 V787.2 H27 V772 H17.9 Z"/>
<circle cx="43.4" cy="769.3" r="4.4"/>
<path d="M53,765 H62.9 L53.6,787.2 H43.8 Z"/>
</g>
<text x="73.6" y="787.2" style="fill:#131722;font-size:30.8px;font-weight:bold;">TradingView</text>
</svg></body></html>
